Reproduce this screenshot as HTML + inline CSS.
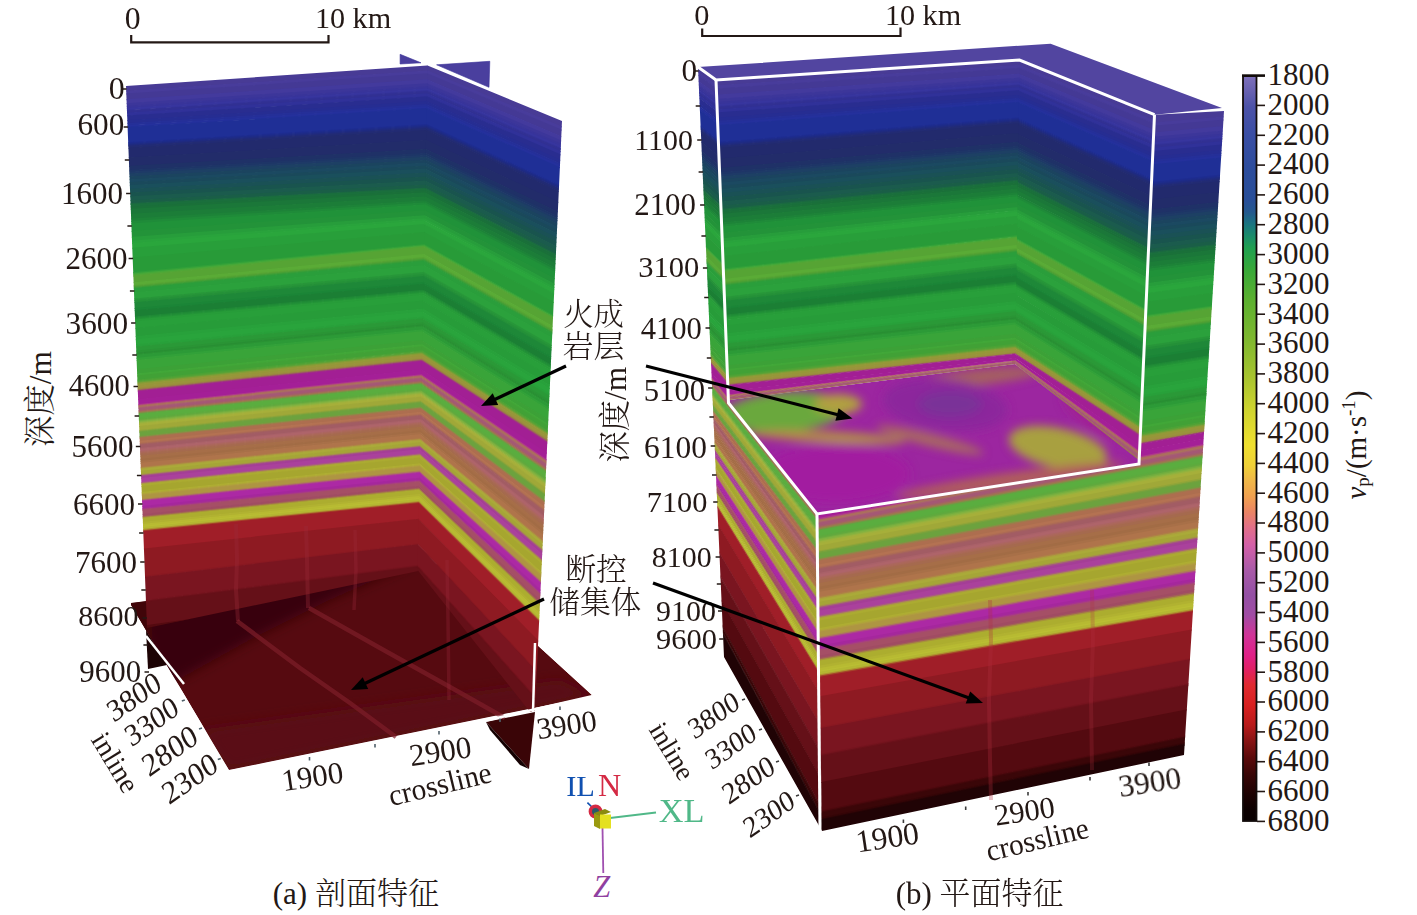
<!DOCTYPE html>
<html><head><meta charset="utf-8"><style>
html,body{margin:0;padding:0;background:#fff;}
svg{display:block;}
</style></head><body>
<svg width="1417" height="915" viewBox="0 0 1417 915">
<rect width="1417" height="915" fill="#fff"/>
<defs>
<filter id="blur6" x="-20%" y="-20%" width="140%" height="140%"><feGaussianBlur stdDeviation="6"/></filter>
<filter id="blur5" x="-20%" y="-20%" width="140%" height="140%"><feGaussianBlur stdDeviation="5"/></filter><filter id="blur3" x="-20%" y="-20%" width="140%" height="140%"><feGaussianBlur stdDeviation="3"/></filter>
<clipPath id="cfa"><polygon points="131,605 229,770 593,696 535,643 470,560 131,603"/></clipPath>
<clipPath id="cfb"><polygon points="729,400 1015,364 1139,460 1139,464 817,514 728,403"/></clipPath>
</defs>
<polygon points="400.1,54.3 400.1,64 421,62.8" fill="#4a3f9e" stroke="#3a3298" stroke-width="0.6"/>
<polygon points="436.6,64.8 489.8,61.3 489,87.3" fill="#4a3f9e" stroke="#3a3298" stroke-width="0.6"/>
<polygon points="146,630 148,669 167,665" fill="#1c0304"/>
<polygon points="486,722 529,769 535,712" fill="#3a0507"/>
<polygon points="486,722 529,769 520,765 490,730" fill="#150102"/>
<g clip-path="url(#cfa)">
<polygon points="131,605 229,770 593,696 535,643 470,560 131,603" fill="#560a10"/>
<polygon points="229,770 593,696 560,680 200,730" fill="#5a0c12" filter="url(#blur6)"/>
<polygon points="140,615 420,560 330,600 250,640 160,690" fill="#380408" filter="url(#blur6)"/>
<polygon points="126,600 152,598 152,645" fill="#400509"/>
</g>
<polyline points="237,621 300,668 350,703 396,737" fill="none" stroke="#7e1e2a" stroke-width="4.5" opacity="0.7"/>
<polyline points="309,608 380,648 450,687 505,718" fill="none" stroke="#7e1e2a" stroke-width="4.5" opacity="0.7"/>
<clipPath id="ca2"><polygon points="424.5,67.0 427.5,65.5 562.0,121.0 535.0,711.0 530.0,712.0 417.5,570.0 415.0,570.0"/></clipPath>
<g clip-path="url(#ca2)">
<polygon fill="#483b95" points="417.0,25.5 575.0,86.5 573.1,125.6 572.8,131.9 416.3,66.6 416.4,60.9"/>
<polygon fill="#483c9b" points="416.3,65.8 572.8,131.0 572.6,135.1 416.3,69.6"/>
<polygon fill="#443995" points="416.3,68.8 572.7,134.3 572.3,141.6 416.2,75.5"/>
<polygon fill="#433a9d" points="416.2,74.7 572.4,140.8 572.1,146.0 416.1,79.4"/>
<polygon fill="#3c369a" points="416.1,78.6 572.2,145.1 572.0,149.2 416.0,82.4"/>
<polygon fill="#38349a" points="416.1,81.6 572.0,148.4 571.8,151.4 416.0,84.4"/>
<polygon fill="#37359e" points="416.0,83.6 571.9,150.5 571.7,153.6 416.0,86.3"/>
<polygon fill="#333297" points="416.0,85.5 571.8,152.7 571.7,154.6 416.0,87.3"/>
<polygon fill="#313093" points="416.0,86.5 571.7,153.8 571.6,156.8 415.9,89.3"/>
<polygon fill="#303199" points="415.9,88.5 571.6,155.9 571.4,160.1 415.9,92.2"/>
<polygon fill="#292d90" points="415.9,91.4 571.5,159.2 571.2,165.5 415.8,97.2"/>
<polygon fill="#262d92" points="415.8,96.4 571.2,164.6 571.0,168.7 415.7,100.1"/>
<polygon fill="#252f98" points="415.8,99.3 571.1,167.9 570.9,170.9 415.7,102.1"/>
<polygon fill="#24309c" points="415.7,101.3 570.9,170.0 570.8,173.1 415.7,104.1"/>
<polygon fill="#1f2f96" points="415.7,103.3 570.8,172.2 570.0,190.4 415.4,119.8"/>
<polygon fill="#1e2c90" points="415.4,119.0 570.0,189.6 569.9,191.5 415.4,120.8"/>
<polygon fill="#1e2c8a" points="415.4,120.0 570.0,190.7 569.9,192.6 415.4,121.8"/>
<polygon fill="#1f2b83" points="415.4,121.0 569.9,191.7 569.8,193.7 415.4,122.8"/>
<polygon fill="#212b7c" points="415.4,122.0 569.8,192.8 569.8,194.8 415.3,123.7"/>
<polygon fill="#222b73" points="415.4,123.0 569.8,193.9 569.7,196.9 415.3,125.7"/>
<polygon fill="#222a6d" points="415.3,124.9 569.7,196.1 569.1,207.8 415.1,135.6"/>
<polygon fill="#222c6a" points="415.2,134.8 569.2,206.9 568.7,217.5 415.0,144.4"/>
<polygon fill="#1f3167" points="415.0,143.6 568.7,216.7 568.4,221.9 414.9,148.4"/>
<polygon fill="#1e3567" points="414.9,147.6 568.5,221.0 568.3,224.1 414.9,150.3"/>
<polygon fill="#1e3a67" points="414.9,149.5 568.4,223.2 568.2,226.2 414.9,152.3"/>
<polygon fill="#1d4064" points="414.9,151.5 568.3,225.4 568.1,229.5 414.8,155.3"/>
<polygon fill="#1b445f" points="414.8,154.5 568.1,228.6 567.9,232.7 414.8,158.2"/>
<polygon fill="#1b4961" points="414.8,157.4 568.0,231.9 567.8,236.0 414.7,161.2"/>
<polygon fill="#1a495b" points="414.7,160.4 567.8,235.1 567.6,239.2 414.7,164.1"/>
<polygon fill="#1a4f5c" points="414.7,163.3 567.6,238.4 567.4,243.6 414.6,168.1"/>
<polygon fill="#1a5155" points="414.6,167.3 567.4,242.7 567.2,247.9 414.5,172.0"/>
<polygon fill="#19544e" points="414.6,171.2 567.2,247.0 567.0,252.2 414.5,175.9"/>
<polygon fill="#1b5b4d" points="414.5,175.2 567.0,251.4 566.8,256.6 414.4,179.9"/>
<polygon fill="#1a5e47" points="414.4,179.1 566.8,255.7 566.6,259.8 414.4,182.8"/>
<polygon fill="#1b6842" points="414.4,182.1 566.6,259.0 566.6,260.9 414.3,183.8"/>
<polygon fill="#1a6f3c" points="414.4,183.0 566.6,260.1 566.4,263.1 414.3,185.8"/>
<polygon fill="#1a7039" points="414.3,185.0 566.5,262.2 566.3,265.3 414.3,187.8"/>
<polygon fill="#1b7739" points="414.3,187.0 566.4,264.4 566.1,269.6 414.2,191.7"/>
<polygon fill="#1c7d38" points="414.2,190.9 566.2,268.7 565.9,273.9 414.1,195.6"/>
<polygon fill="#1d8338" points="414.2,194.9 566.0,273.1 565.8,276.1 414.1,197.6"/>
<polygon fill="#1f8b39" points="414.1,196.8 565.9,275.2 565.7,278.3 414.1,199.6"/>
<polygon fill="#209239" points="414.1,198.8 565.7,277.4 565.4,284.8 414.0,205.5"/>
<polygon fill="#239339" points="414.0,204.7 565.4,283.9 565.1,290.2 413.9,210.4"/>
<polygon fill="#279d3b" points="413.9,209.6 565.2,289.3 565.0,293.4 413.9,213.4"/>
<polygon fill="#29a33c" points="413.9,212.6 565.0,292.6 564.9,295.6 413.8,215.3"/>
<polygon fill="#2aa63c" points="413.8,214.6 564.9,294.7 564.7,300.0 413.8,219.3"/>
<polygon fill="#289f3a" points="413.8,218.5 564.7,299.1 564.2,308.6 413.6,227.2"/>
<polygon fill="#289b38" points="413.6,226.4 564.3,307.8 563.6,321.6 413.4,239.0"/>
<polygon fill="#32a139" points="413.4,238.2 563.6,320.8 563.5,322.7 413.4,240.0"/>
<polygon fill="#43a839" points="413.4,239.2 563.6,321.9 563.5,323.8 413.4,241.0"/>
<polygon fill="#50a736" points="413.4,240.2 563.5,322.9 563.4,324.9 413.4,241.9"/>
<polygon fill="#56a434" points="413.4,241.2 563.5,324.0 563.1,332.5 413.3,248.8"/>
<polygon fill="#5aab36" points="413.3,248.1 563.1,331.6 562.9,335.7 413.2,251.8"/>
<polygon fill="#56a434" points="413.2,251.0 563.0,334.9 562.9,336.8 413.2,252.8"/>
<polygon fill="#4ea034" points="413.2,252.0 562.9,335.9 562.8,337.9 413.2,253.8"/>
<polygon fill="#409f36" points="413.2,253.0 562.8,337.0 562.8,339.0 413.2,254.7"/>
<polygon fill="#319d39" points="413.2,254.0 562.8,338.1 562.7,340.1 413.2,255.7"/>
<polygon fill="#2a9e3b" points="413.2,254.9 562.7,339.2 562.5,344.4 413.1,259.7"/>
<polygon fill="#2ba13c" points="413.1,258.9 562.5,343.5 562.1,352.0 413.0,266.6"/>
<polygon fill="#279639" points="413.0,265.8 562.2,351.1 562.0,354.2 413.0,268.5"/>
<polygon fill="#249038" points="413.0,267.8 562.1,353.3 561.9,356.3 412.9,270.5"/>
<polygon fill="#1e8838" points="412.9,269.7 561.9,355.5 561.6,362.8 412.8,276.4"/>
<polygon fill="#1b8537" points="412.8,275.6 561.6,362.0 561.5,365.0 412.8,278.4"/>
<polygon fill="#1b7f34" points="412.8,277.6 561.5,364.1 561.2,371.5 412.7,284.3"/>
<polygon fill="#1f8936" points="412.7,283.5 561.2,370.6 561.1,372.6 412.7,285.3"/>
<polygon fill="#218e37" points="412.7,284.5 561.2,371.7 561.1,373.7 412.7,286.3"/>
<polygon fill="#239437" points="412.7,285.5 561.1,372.8 561.0,374.8 412.6,287.3"/>
<polygon fill="#279c39" points="412.7,286.5 561.0,373.9 560.9,376.9 412.6,289.2"/>
<polygon fill="#289f3a" points="412.6,288.4 560.9,376.1 560.6,383.4 412.5,295.1"/>
<polygon fill="#279c39" points="412.5,294.4 560.6,382.6 560.2,392.1 412.4,303.0"/>
<polygon fill="#28a13b" points="412.4,302.2 560.2,391.2 560.0,395.3 412.3,306.0"/>
<polygon fill="#29a43c" points="412.4,305.2 560.0,394.5 559.7,400.8 412.3,310.9"/>
<polygon fill="#28a03a" points="412.3,310.1 559.8,399.9 559.6,402.9 412.2,312.9"/>
<polygon fill="#2a9937" points="412.2,312.1 559.7,402.1 559.4,407.3 412.2,316.8"/>
<polygon fill="#2a9435" points="412.2,316.0 559.5,406.4 559.3,409.4 412.1,318.8"/>
<polygon fill="#288e33" points="412.1,318.0 559.3,408.6 559.3,410.5 412.1,319.8"/>
<polygon fill="#2a9334" points="412.1,319.0 559.3,409.7 559.2,411.6 412.1,320.8"/>
<polygon fill="#2c9a37" points="412.1,320.0 559.2,410.7 559.0,414.9 412.1,323.7"/>
<polygon fill="#32a139" points="412.1,322.9 559.1,414.0 558.9,417.0 412.0,325.7"/>
<polygon fill="#39a439" points="412.0,324.9 559.0,416.2 558.5,426.8 411.9,334.6"/>
<polygon fill="#3ca137" points="411.9,333.8 558.5,425.9 558.2,431.1 411.8,338.5"/>
<polygon fill="#41a738" points="411.8,337.7 558.3,430.2 558.1,433.3 411.8,340.5"/>
<polygon fill="#41a136" points="411.8,339.7 558.2,432.4 557.9,437.6 411.7,344.4"/>
<polygon fill="#4ba236" points="411.7,343.6 558.0,436.7 557.9,438.7 411.7,345.4"/>
<polygon fill="#52a336" points="411.7,344.6 557.9,437.8 557.8,439.8 411.7,346.4"/>
<polygon fill="#65a136" points="411.7,345.6 557.9,438.9 557.8,440.9 411.7,347.4"/>
<polygon fill="#849d36" points="411.7,346.6 557.8,440.0 557.7,441.9 411.7,348.4"/>
<polygon fill="#959838" points="411.7,347.6 557.8,441.1 557.6,444.1 411.6,350.3"/>
<polygon fill="#9a933c" points="411.6,349.5 557.6,443.2 557.5,446.3 411.6,352.3"/>
<polygon fill="#9a8d3d" points="411.6,351.5 557.5,445.4 557.5,446.5 557.4,447.5 411.6,353.3 411.6,352.5"/>
<polygon fill="#9b6f53" points="411.6,352.5 557.5,446.5 557.4,448.8 411.6,354.3"/>
<polygon fill="#9e397d" points="411.6,353.5 557.4,447.8 557.3,450.1 411.6,355.3"/>
<polygon fill="#a21f94" points="411.6,354.5 557.4,449.1 556.7,460.5 411.5,363.3"/>
<polygon fill="#a41f97" points="411.5,362.5 556.8,459.4 556.4,467.0 411.4,368.3"/>
<polygon fill="#ae388d" points="411.5,367.5 556.5,465.9 556.3,468.2 411.4,369.3"/>
<polygon fill="#ad6565" points="411.4,368.5 556.4,467.2 556.3,469.5 411.4,370.3"/>
<polygon fill="#ab725b" points="411.4,369.5 556.3,468.5 556.2,470.8 411.4,371.3"/>
<polygon fill="#a8626e" points="411.4,370.5 556.2,469.8 556.1,472.1 411.4,372.3"/>
<polygon fill="#a45875" points="411.4,371.5 556.2,471.1 556.0,474.7 411.4,374.3"/>
<polygon fill="#a35e6b" points="411.4,373.5 556.0,473.7 555.9,476.0 411.4,375.3"/>
<polygon fill="#a36d58" points="411.4,374.5 556.0,475.0 555.8,477.3 411.4,376.3"/>
<polygon fill="#91834a" points="411.4,375.5 555.9,476.3 555.8,478.6 411.4,377.3"/>
<polygon fill="#6a9f43" points="411.4,376.5 555.8,477.6 555.7,479.9 411.4,378.3"/>
<polygon fill="#5aad3f" points="411.4,377.5 555.8,478.9 555.4,485.1 411.3,382.3"/>
<polygon fill="#5dab3e" points="411.3,381.5 555.5,484.0 555.4,486.4 411.3,383.3"/>
<polygon fill="#62a93e" points="411.3,382.5 555.4,485.3 555.3,487.7 411.3,384.3"/>
<polygon fill="#71ae3f" points="411.3,383.5 555.3,486.6 555.2,489.0 411.3,385.3"/>
<polygon fill="#81b240" points="411.3,384.5 555.3,487.9 555.1,490.2 411.3,386.3"/>
<polygon fill="#91b23e" points="411.3,385.5 555.2,489.2 555.1,491.5 411.3,387.3"/>
<polygon fill="#a0b13c" points="411.3,386.5 555.1,490.5 555.0,492.8 411.3,388.3"/>
<polygon fill="#a6af3a" points="411.3,387.5 555.1,491.8 554.9,495.4 411.2,390.3"/>
<polygon fill="#a0a838" points="411.2,389.5 554.9,494.4 554.6,500.6 411.2,394.2"/>
<polygon fill="#91a539" points="411.2,393.4 554.7,499.6 554.5,501.9 411.2,395.2"/>
<polygon fill="#78a23c" points="411.2,394.4 554.6,500.9 554.5,503.2 411.2,396.2"/>
<polygon fill="#6ca23e" points="411.2,395.4 554.5,502.1 554.2,508.4 411.1,400.2"/>
<polygon fill="#7d9743" points="411.2,399.4 554.2,507.3 554.1,509.6 411.1,401.2"/>
<polygon fill="#9d7c4b" points="411.1,400.4 554.2,508.6 554.0,510.9 411.1,402.2"/>
<polygon fill="#ad6e4f" points="411.1,401.4 554.1,509.9 553.8,514.8 411.1,405.2"/>
<polygon fill="#b47252" points="411.1,404.4 553.9,513.8 553.7,517.4 411.1,407.2"/>
<polygon fill="#ad6b55" points="411.1,406.4 553.7,516.4 553.6,518.7 411.1,408.2"/>
<polygon fill="#a4615f" points="411.1,407.4 553.7,517.7 553.6,520.0 411.1,409.2"/>
<polygon fill="#a25c64" points="411.1,408.4 553.6,519.0 553.3,523.9 411.0,412.2"/>
<polygon fill="#a96169" points="411.0,411.4 553.4,522.8 553.3,525.2 411.0,413.2"/>
<polygon fill="#ae646a" points="411.0,412.4 553.3,524.1 553.1,527.7 411.0,415.2"/>
<polygon fill="#ac6661" points="411.0,414.4 553.2,526.7 553.1,529.0 411.0,416.3"/>
<polygon fill="#ab685a" points="411.0,415.4 553.1,528.0 553.0,530.3 411.0,417.3"/>
<polygon fill="#a86954" points="411.0,416.5 553.1,529.3 552.9,531.6 411.0,418.3"/>
<polygon fill="#a56a4e" points="411.0,417.5 553.0,530.6 552.8,534.2 411.0,420.3"/>
<polygon fill="#a66e48" points="411.0,419.5 552.8,533.2 552.6,538.1 410.9,423.3"/>
<polygon fill="#a26c45" points="410.9,422.5 552.6,537.0 552.4,540.7 410.9,425.3"/>
<polygon fill="#a87048" points="410.9,424.5 552.5,539.6 552.3,543.2 410.9,427.3"/>
<polygon fill="#af744b" points="410.9,426.5 552.4,542.2 552.0,548.4 410.9,431.3"/>
<polygon fill="#ae8246" points="410.9,430.5 552.1,547.4 552.0,549.7 410.9,432.3"/>
<polygon fill="#ac9e3e" points="410.9,431.5 552.0,548.7 551.9,551.0 410.8,433.3"/>
<polygon fill="#aaaa39" points="410.9,432.5 551.9,550.0 551.7,553.6 410.8,435.3"/>
<polygon fill="#a5a537" points="410.8,434.5 551.8,552.5 551.5,557.5 410.8,438.3"/>
<polygon fill="#a68c4f" points="410.8,437.5 551.6,556.4 551.5,558.7 410.8,439.3"/>
<polygon fill="#a4587f" points="410.8,438.5 551.5,557.7 551.4,560.0 410.8,440.3"/>
<polygon fill="#a43e96" points="410.8,439.5 551.5,559.0 551.3,562.6 410.8,442.3"/>
<polygon fill="#aa419c" points="410.8,441.5 551.3,561.6 551.0,567.8 410.7,446.3"/>
<polygon fill="#a95b81" points="410.7,445.5 551.0,566.8 550.9,569.1 410.7,447.3"/>
<polygon fill="#ab914c" points="410.7,446.5 551.0,568.0 550.8,570.4 410.7,448.3"/>
<polygon fill="#abab31" points="410.7,447.5 550.9,569.3 550.7,573.0 410.7,450.3"/>
<polygon fill="#a6a62f" points="410.7,449.5 550.8,571.9 550.3,580.7 410.6,456.3"/>
<polygon fill="#aeae32" points="410.6,455.5 550.3,579.7 550.2,582.0 410.6,457.3"/>
<polygon fill="#afa936" points="410.6,456.5 550.3,581.0 550.2,583.3 410.6,458.3"/>
<polygon fill="#b09d3f" points="410.6,457.5 550.2,582.2 550.1,584.6 410.6,459.3"/>
<polygon fill="#ae9542" points="410.6,458.5 550.1,583.5 549.8,589.7 410.6,463.3"/>
<polygon fill="#ad7a5b" points="410.6,462.5 549.9,588.7 549.7,591.0 410.6,464.3"/>
<polygon fill="#ad448c" points="410.6,463.5 549.8,590.0 549.7,592.3 410.6,465.3"/>
<polygon fill="#ac29a4" points="410.6,464.5 549.7,591.3 549.3,598.8 410.5,470.3"/>
<polygon fill="#a5279d" points="410.5,469.5 549.4,597.7 549.2,601.3 410.5,472.3"/>
<polygon fill="#a63291" points="410.5,471.5 549.2,600.3 549.1,602.6 410.5,473.3"/>
<polygon fill="#a84676" points="410.5,472.5 549.2,601.6 549.0,603.9 410.5,474.3"/>
<polygon fill="#a54f66" points="410.5,473.5 549.1,602.9 548.8,609.1 410.4,478.4"/>
<polygon fill="#a04c63" points="410.4,477.6 548.8,608.1 548.6,611.7 410.4,480.4"/>
<polygon fill="#a26356" points="410.4,479.6 548.7,610.6 548.6,613.0 410.4,481.4"/>
<polygon fill="#a7923b" points="410.4,480.6 548.6,611.9 548.5,614.2 410.4,482.4"/>
<polygon fill="#acad2f" points="410.4,481.6 548.5,613.2 548.2,619.4 410.4,486.4"/>
<polygon fill="#b1b231" points="410.4,485.6 548.3,618.4 548.1,622.0 410.3,488.4"/>
<polygon fill="#b7ba32" points="410.3,487.6 548.1,621.0 547.9,624.6 410.3,490.4"/>
<polygon fill="#babe34" points="410.3,489.6 548.0,623.5 547.9,625.9 410.3,491.4"/>
<polygon fill="#b4b732" points="410.3,490.6 547.9,624.8 547.8,627.4 547.7,628.4 410.3,493.4 410.3,492.6"/>
<polygon fill="#af9230" points="410.3,492.6 547.8,627.4 547.7,629.6 410.3,494.4"/>
<polygon fill="#a5442a" points="410.3,493.6 547.7,628.6 547.6,630.8 410.3,495.3"/>
<polygon fill="#a01e28" points="410.3,494.6 547.7,629.8 546.6,650.0 410.1,511.0"/>
<polygon fill="#8e1a22" points="410.1,510.2 546.6,649.0 545.0,679.9 409.8,535.4"/>
<polygon fill="#891922" points="409.8,534.6 545.1,679.0 545.0,681.1 409.8,536.4"/>
<polygon fill="#7a1520" points="409.8,535.6 545.0,680.2 543.6,706.3 409.6,556.9"/>
<polygon fill="#75141e" points="409.6,556.1 543.7,705.4 543.6,707.5 409.6,557.9"/>
<polygon fill="#6a111a" points="409.6,557.1 543.6,706.6 543.5,708.7 409.5,558.9"/>
<polygon fill="#651018" points="409.6,558.1 543.6,707.7 543.5,708.9 542.3,732.9 409.3,578.8 409.5,559.1"/>
<polygon fill="#540a10" points="409.3,578.1 542.3,731.9 540.9,759.3 409.0,600.7"/>
<polygon fill="#4e090e" points="409.0,599.9 540.9,758.4 540.8,760.4 409.0,601.6"/>
<polygon fill="#40070a" points="409.0,600.9 540.9,759.5 540.8,761.6 409.0,602.6"/>
<polygon fill="#3a0608" points="409.0,601.8 540.8,760.7 540.5,766.2 409.0,606.4"/>
<polygon fill="#340507" points="409.0,605.6 540.6,765.3 540.5,767.3 409.0,607.4"/>
<polygon fill="#260406" points="409.0,606.6 540.5,766.4 540.4,768.5 408.9,608.3"/>
<polygon fill="#200305" points="409.0,607.5 540.5,767.6 539.3,789.4 536.9,835.3 408.3,663.7 408.7,625.6"/>
</g>
<clipPath id="ca1"><polygon points="126.0,86.0 427.5,65.5 417.5,570.0 418.5,571.0 147.0,628.0"/></clipPath>
<g clip-path="url(#ca1)">
<polygon fill="#483b95" points="112.7,52.6 440.2,28.9 439.5,64.7 439.4,70.4 114.2,92.3 114.0,86.8"/>
<polygon fill="#483c9b" points="114.2,91.6 439.4,69.7 439.3,73.4 114.3,95.2"/>
<polygon fill="#443995" points="114.3,94.4 439.3,72.6 439.2,79.4 114.6,100.9"/>
<polygon fill="#433a9d" points="114.5,100.1 439.2,78.6 439.1,83.4 114.7,104.7"/>
<polygon fill="#3c369a" points="114.7,103.9 439.1,82.6 439.0,86.3 114.8,107.5"/>
<polygon fill="#38349a" points="114.8,106.8 439.1,85.5 439.0,88.3 114.9,109.4"/>
<polygon fill="#37359e" points="114.9,108.7 439.0,87.5 439.0,90.3 115.0,111.3"/>
<polygon fill="#333297" points="114.9,110.6 439.0,89.5 438.9,91.3 115.0,112.3"/>
<polygon fill="#313093" points="115.0,111.5 439.0,90.5 438.9,93.3 115.1,114.2"/>
<polygon fill="#303199" points="115.0,113.4 438.9,92.5 438.9,96.3 115.2,117.0"/>
<polygon fill="#292d90" points="115.2,116.3 438.9,95.5 438.8,101.2 115.4,121.8"/>
<polygon fill="#262d92" points="115.3,121.0 438.8,100.4 438.7,104.2 115.5,124.6"/>
<polygon fill="#252f98" points="115.4,123.9 438.7,103.4 438.7,106.2 115.5,126.5"/>
<polygon fill="#24309c" points="115.5,125.8 438.7,105.4 438.6,108.2 115.6,128.4"/>
<polygon fill="#1f2f96" points="115.6,127.7 438.6,107.4 438.3,124.1 116.2,143.6"/>
<polygon fill="#1e2c90" points="116.2,142.9 438.3,123.3 438.3,125.1 116.2,144.6"/>
<polygon fill="#1e2c8a" points="116.2,143.8 438.3,124.3 438.3,126.1 116.3,145.5"/>
<polygon fill="#1f2b83" points="116.2,144.8 438.3,125.3 438.2,127.1 116.3,146.5"/>
<polygon fill="#212b7c" points="116.3,145.7 438.3,126.3 438.2,128.1 116.3,147.4"/>
<polygon fill="#222b73" points="116.3,146.7 438.2,127.3 438.2,130.1 116.4,149.3"/>
<polygon fill="#222a6d" points="116.4,148.6 438.2,129.3 438.0,140.0 116.8,158.8"/>
<polygon fill="#222c6a" points="116.8,158.1 438.0,139.2 437.8,148.9 117.1,167.4"/>
<polygon fill="#1f3167" points="117.1,166.6 437.8,148.1 437.7,152.9 117.3,171.2"/>
<polygon fill="#1e3567" points="117.2,170.4 437.8,152.1 437.7,154.9 117.3,173.1"/>
<polygon fill="#1e3a67" points="117.3,172.3 437.7,154.1 437.7,156.9 117.4,175.0"/>
<polygon fill="#1d4064" points="117.4,174.2 437.7,156.1 437.6,159.9 117.5,177.8"/>
<polygon fill="#1b445f" points="117.5,177.1 437.6,159.1 437.5,162.8 117.6,180.7"/>
<polygon fill="#1b4961" points="117.6,179.9 437.6,162.0 437.5,165.8 117.7,183.5"/>
<polygon fill="#1a495b" points="117.7,182.8 437.5,165.0 437.4,168.8 117.8,186.4"/>
<polygon fill="#1a4f5c" points="117.8,185.6 437.4,168.0 437.3,172.8 118.0,190.2"/>
<polygon fill="#1a5155" points="118.0,189.4 437.4,172.0 437.3,176.7 118.1,194.0"/>
<polygon fill="#19544e" points="118.1,193.2 437.3,175.9 437.2,180.7 118.3,197.8"/>
<polygon fill="#1b5b4d" points="118.2,197.0 437.2,179.9 437.1,184.7 118.4,201.6"/>
<polygon fill="#1a5e47" points="118.4,200.8 437.1,183.9 437.0,187.7 118.5,204.4"/>
<polygon fill="#1b6842" points="118.5,203.7 437.1,186.9 437.0,187.9 437.0,188.7 118.6,205.6 118.5,204.6"/>
<polygon fill="#1a6f3c" points="118.5,204.6 437.0,187.9 437.0,190.6 118.7,208.1"/>
<polygon fill="#1a7039" points="118.6,207.1 437.0,189.8 436.9,192.6 118.8,210.5"/>
<polygon fill="#1b7739" points="118.7,209.5 437.0,191.8 436.9,196.5 119.0,215.4"/>
<polygon fill="#1c7d38" points="118.9,214.4 436.9,195.7 436.8,200.4 119.1,220.3"/>
<polygon fill="#1d8338" points="119.1,219.3 436.8,199.7 436.7,202.4 119.2,222.8"/>
<polygon fill="#1f8b39" points="119.2,221.8 436.8,201.6 436.7,204.4 119.3,225.2"/>
<polygon fill="#209239" points="119.3,224.2 436.7,203.6 436.6,210.3 119.6,232.6"/>
<polygon fill="#239339" points="119.6,231.6 436.6,209.5 436.5,215.2 119.9,238.7"/>
<polygon fill="#279d3b" points="119.8,237.7 436.5,214.4 436.4,218.1 120.0,242.4"/>
<polygon fill="#29a33c" points="120.0,241.4 436.4,217.3 436.4,220.1 120.1,244.8"/>
<polygon fill="#2aa63c" points="120.1,243.9 436.4,219.3 436.3,224.0 120.3,249.7"/>
<polygon fill="#289f3a" points="120.2,248.8 436.3,223.2 436.1,231.9 120.7,259.6"/>
<polygon fill="#289b38" points="120.6,258.6 436.2,231.1 435.9,243.7 121.2,274.3"/>
<polygon fill="#32a139" points="121.2,273.3 435.9,242.9 435.9,244.6 121.3,275.5"/>
<polygon fill="#43a839" points="121.2,274.5 435.9,243.9 435.8,245.6 121.3,276.7"/>
<polygon fill="#50a736" points="121.3,275.7 435.9,244.8 435.8,246.6 121.4,277.9"/>
<polygon fill="#56a434" points="121.3,277.0 435.8,245.8 435.8,246.8 435.7,253.6 121.6,284.3 121.4,278.2"/>
<polygon fill="#5aab36" points="121.6,283.6 435.7,252.8 435.6,256.6 121.7,287.0"/>
<polygon fill="#56a434" points="121.7,286.3 435.6,255.8 435.6,257.6 121.7,287.9"/>
<polygon fill="#4ea034" points="121.7,287.2 435.6,256.8 435.6,258.7 121.8,288.8"/>
<polygon fill="#409f36" points="121.8,288.0 435.6,257.9 435.6,259.7 121.8,289.7"/>
<polygon fill="#319d39" points="121.8,288.9 435.6,258.9 435.6,260.7 121.9,290.6"/>
<polygon fill="#2a9e3b" points="121.8,289.8 435.6,259.9 435.5,264.7 122.0,294.1"/>
<polygon fill="#2ba13c" points="122.0,293.4 435.5,263.9 435.3,271.7 122.2,300.4"/>
<polygon fill="#279639" points="122.2,299.7 435.4,270.9 435.3,273.7 122.3,302.2"/>
<polygon fill="#249038" points="122.3,301.5 435.3,272.9 435.3,275.7 122.4,304.0"/>
<polygon fill="#1e8838" points="122.3,303.3 435.3,274.9 435.2,276.9 435.1,281.7 122.6,310.1 122.4,305.1"/>
<polygon fill="#1b8537" points="122.6,309.2 435.2,280.9 435.1,283.6 122.7,312.1"/>
<polygon fill="#1b7f34" points="122.6,311.3 435.1,282.8 435.0,289.5 122.9,318.4"/>
<polygon fill="#1f8936" points="122.9,317.5 435.0,288.8 435.0,290.5 123.0,319.4"/>
<polygon fill="#218e37" points="122.9,318.6 435.0,289.7 434.9,291.5 123.0,320.4"/>
<polygon fill="#239437" points="123.0,319.6 435.0,290.7 434.9,292.5 123.0,321.5"/>
<polygon fill="#279c39" points="123.0,320.7 434.9,291.7 434.9,294.5 123.1,323.6"/>
<polygon fill="#289f3a" points="123.1,322.7 434.9,293.7 434.8,300.4 123.4,329.8"/>
<polygon fill="#279c39" points="123.3,329.0 434.8,299.6 434.6,308.3 123.7,338.1"/>
<polygon fill="#28a13b" points="123.6,337.3 434.6,307.5 434.6,311.2 123.8,341.2"/>
<polygon fill="#29a43c" points="123.8,340.4 434.6,310.4 434.5,316.2 124.0,346.4"/>
<polygon fill="#28a03a" points="124.0,345.6 434.5,315.4 434.4,318.1 124.1,348.5"/>
<polygon fill="#2a9937" points="124.0,347.7 434.4,317.3 434.3,322.1 124.2,352.7"/>
<polygon fill="#2a9435" points="124.2,351.8 434.3,321.3 434.3,324.0 124.3,354.7"/>
<polygon fill="#288e33" points="124.3,353.9 434.3,323.2 434.3,325.0 124.4,355.8"/>
<polygon fill="#2a9334" points="124.3,354.9 434.3,324.2 434.3,326.0 124.4,356.8"/>
<polygon fill="#2c9a37" points="124.4,356.0 434.3,325.2 434.2,329.0 124.5,359.9"/>
<polygon fill="#32a139" points="124.5,359.1 434.2,328.2 434.2,330.9 124.6,362.0"/>
<polygon fill="#39a439" points="124.6,361.2 434.2,330.1 434.0,339.8 125.0,371.4"/>
<polygon fill="#3ca137" points="124.9,370.5 434.0,339.0 433.9,343.7 125.1,375.5"/>
<polygon fill="#41a738" points="125.1,374.7 433.9,343.0 433.9,345.7 125.2,377.6"/>
<polygon fill="#41a136" points="125.2,376.8 433.9,344.9 433.8,349.7 125.4,381.7"/>
<polygon fill="#4ba236" points="125.3,380.9 433.8,348.9 433.8,350.6 125.4,382.8"/>
<polygon fill="#52a336" points="125.4,381.9 433.8,349.9 433.7,351.6 125.4,383.8"/>
<polygon fill="#65a136" points="125.4,383.0 433.8,350.8 433.7,352.6 125.5,384.9"/>
<polygon fill="#849d36" points="125.4,384.0 433.7,351.8 433.7,353.6 125.5,385.9"/>
<polygon fill="#959838" points="125.5,385.1 433.7,352.8 433.7,355.6 125.6,388.0"/>
<polygon fill="#9a933c" points="125.6,387.1 433.7,354.8 433.6,357.5 125.7,390.1"/>
<polygon fill="#9a8d3d" points="125.6,389.2 433.6,356.8 433.6,357.7 433.6,358.6 125.7,391.1 125.7,390.3"/>
<polygon fill="#9b6f53" points="125.7,390.3 433.6,357.7 433.6,359.6 125.7,392.1"/>
<polygon fill="#9e397d" points="125.7,391.3 433.6,358.8 433.6,360.6 125.8,393.1"/>
<polygon fill="#a21f94" points="125.8,392.3 433.6,359.8 433.4,368.7 126.1,401.1"/>
<polygon fill="#a41f97" points="126.1,400.3 433.4,367.9 433.3,373.8 126.3,406.1"/>
<polygon fill="#ae388d" points="126.3,405.3 433.3,373.0 433.3,374.8 126.3,407.1"/>
<polygon fill="#ad6565" points="126.3,406.3 433.3,374.0 433.3,375.8 126.4,408.1"/>
<polygon fill="#ab725b" points="126.3,407.3 433.3,375.0 433.2,376.8 126.4,409.1"/>
<polygon fill="#a8626e" points="126.4,408.3 433.3,376.0 433.2,377.8 126.4,410.1"/>
<polygon fill="#a45875" points="126.4,409.3 433.2,377.0 433.2,379.9 126.5,412.1"/>
<polygon fill="#a35e6b" points="126.5,411.3 433.2,379.0 433.2,380.9 126.6,413.1"/>
<polygon fill="#a36d58" points="126.5,412.3 433.2,380.1 433.1,381.9 126.6,414.1"/>
<polygon fill="#91834a" points="126.6,413.3 433.2,381.1 433.1,382.9 126.6,415.1"/>
<polygon fill="#6a9f43" points="126.6,414.3 433.1,382.1 433.1,383.9 126.7,416.1"/>
<polygon fill="#5aad3f" points="126.6,415.3 433.1,383.1 433.0,388.0 126.8,420.1"/>
<polygon fill="#5dab3e" points="126.8,419.3 433.0,387.2 433.0,389.0 126.9,421.0"/>
<polygon fill="#62a93e" points="126.8,420.3 433.0,388.2 433.0,390.0 126.9,422.0"/>
<polygon fill="#71ae3f" points="126.9,421.2 433.0,389.2 433.0,391.0 126.9,423.0"/>
<polygon fill="#81b240" points="126.9,422.2 433.0,390.2 432.9,392.0 127.0,424.0"/>
<polygon fill="#91b23e" points="126.9,423.2 433.0,391.2 432.9,393.0 127.0,425.0"/>
<polygon fill="#a0b13c" points="127.0,424.2 432.9,392.2 432.9,394.1 127.1,426.0"/>
<polygon fill="#a6af3a" points="127.0,425.2 432.9,393.3 432.9,396.1 127.1,428.0"/>
<polygon fill="#a0a838" points="127.1,427.2 432.9,395.3 432.8,400.2 127.3,432.0"/>
<polygon fill="#91a539" points="127.2,431.2 432.8,399.3 432.8,401.2 127.3,433.0"/>
<polygon fill="#78a23c" points="127.3,432.2 432.8,400.4 432.7,402.2 127.4,434.0"/>
<polygon fill="#6ca23e" points="127.3,433.2 432.8,401.4 432.7,406.2 127.5,438.0"/>
<polygon fill="#7d9743" points="127.5,437.2 432.7,405.4 432.6,407.3 127.5,439.0"/>
<polygon fill="#9d7c4b" points="127.5,438.2 432.7,406.4 432.6,408.3 127.6,440.0"/>
<polygon fill="#ad6e4f" points="127.6,439.2 432.6,407.5 432.6,411.3 127.7,443.0"/>
<polygon fill="#b47252" points="127.7,442.2 432.6,410.5 432.5,413.3 127.8,445.0"/>
<polygon fill="#ad6b55" points="127.7,444.2 432.5,412.5 432.5,414.4 127.8,446.0"/>
<polygon fill="#a4615f" points="127.8,445.2 432.5,413.5 432.5,415.4 127.9,447.0"/>
<polygon fill="#a25c64" points="127.8,446.2 432.5,414.6 432.4,418.4 128.0,450.0"/>
<polygon fill="#a96169" points="127.9,449.2 432.4,417.6 432.4,419.4 128.0,451.0"/>
<polygon fill="#ae646a" points="128.0,450.2 432.4,418.6 432.4,421.5 128.1,453.0"/>
<polygon fill="#ac6661" points="128.1,452.2 432.4,420.6 432.3,422.5 128.1,454.0"/>
<polygon fill="#ab685a" points="128.1,453.2 432.4,421.7 432.3,423.5 128.2,455.0"/>
<polygon fill="#a86954" points="128.1,454.2 432.3,422.7 432.3,424.5 128.2,456.0"/>
<polygon fill="#a56a4e" points="128.2,455.2 432.3,423.7 432.3,426.5 128.3,458.0"/>
<polygon fill="#a66e48" points="128.2,457.2 432.3,425.7 432.2,429.6 128.4,461.0"/>
<polygon fill="#a26c45" points="128.4,460.2 432.2,428.8 432.2,431.6 128.5,463.0"/>
<polygon fill="#a87048" points="128.4,462.2 432.2,430.8 432.1,433.6 128.5,465.0"/>
<polygon fill="#af744b" points="128.5,464.2 432.1,432.8 432.0,437.7 128.7,469.0"/>
<polygon fill="#ae8246" points="128.7,468.2 432.1,436.9 432.0,438.7 128.7,470.0"/>
<polygon fill="#ac9e3e" points="128.7,469.2 432.0,437.9 432.0,439.7 128.8,471.0"/>
<polygon fill="#aaaa39" points="128.7,470.2 432.0,438.9 432.0,441.8 128.9,473.0"/>
<polygon fill="#a5a537" points="128.8,472.2 432.0,440.9 431.9,444.8 129.0,476.0"/>
<polygon fill="#a68c4f" points="128.9,475.2 431.9,444.0 431.9,445.8 129.0,477.0"/>
<polygon fill="#a4587f" points="129.0,476.2 431.9,445.0 431.9,446.8 129.0,478.0"/>
<polygon fill="#a43e96" points="129.0,477.2 431.9,446.0 431.8,448.9 129.1,480.0"/>
<polygon fill="#aa419c" points="129.1,479.2 431.8,448.0 431.7,452.9 129.3,484.0"/>
<polygon fill="#a95b81" points="129.2,483.2 431.7,452.1 431.7,453.9 129.3,485.0"/>
<polygon fill="#ab914c" points="129.3,484.2 431.7,453.1 431.7,454.9 129.3,486.0"/>
<polygon fill="#abab31" points="129.3,485.2 431.7,454.1 431.7,457.0 129.4,488.0"/>
<polygon fill="#a6a62f" points="129.4,487.2 431.7,456.2 431.5,463.1 129.7,494.0"/>
<polygon fill="#aeae32" points="129.6,493.2 431.5,462.2 431.5,464.1 129.7,495.0"/>
<polygon fill="#afa936" points="129.7,494.2 431.5,463.3 431.5,465.1 129.7,496.0"/>
<polygon fill="#b09d3f" points="129.7,495.2 431.5,464.3 431.5,466.1 129.8,497.0"/>
<polygon fill="#ae9542" points="129.7,496.2 431.5,465.3 431.4,470.2 129.9,501.0"/>
<polygon fill="#ad7a5b" points="129.9,500.2 431.4,469.3 431.4,471.2 130.0,502.0"/>
<polygon fill="#ad448c" points="129.9,501.2 431.4,470.4 431.4,472.2 130.0,503.0"/>
<polygon fill="#ac29a4" points="130.0,502.2 431.4,471.4 431.3,477.3 130.2,508.0"/>
<polygon fill="#a5279d" points="130.2,507.2 431.3,476.5 431.2,479.3 130.3,510.0"/>
<polygon fill="#a63291" points="130.2,509.2 431.2,478.5 431.2,480.3 130.3,511.0"/>
<polygon fill="#a84676" points="130.3,510.2 431.2,479.5 431.2,481.3 130.3,512.0"/>
<polygon fill="#a54f66" points="130.3,511.2 431.2,480.5 431.1,485.4 130.5,516.0"/>
<polygon fill="#a04c63" points="130.5,515.2 431.1,484.6 431.1,487.4 130.6,518.0"/>
<polygon fill="#a26356" points="130.5,517.2 431.1,486.6 431.0,488.4 130.6,519.0"/>
<polygon fill="#a7923b" points="130.6,518.2 431.0,487.6 431.0,489.4 130.6,520.0"/>
<polygon fill="#acad2f" points="130.6,519.2 431.0,488.6 430.9,493.5 130.8,524.0"/>
<polygon fill="#b1b231" points="130.8,523.2 430.9,492.7 430.9,495.5 130.9,526.0"/>
<polygon fill="#b7ba32" points="130.8,525.2 430.9,494.7 430.9,497.6 131.0,528.0"/>
<polygon fill="#babe34" points="130.9,527.2 430.9,496.7 430.8,498.6 131.0,529.0"/>
<polygon fill="#b4b732" points="131.0,528.2 430.8,497.8 430.8,499.8 430.8,500.6 131.1,531.1 131.0,530.2"/>
<polygon fill="#af9230" points="131.0,530.2 430.8,499.8 430.8,501.6 131.1,532.2"/>
<polygon fill="#a5442a" points="131.1,531.3 430.8,500.8 430.8,502.5 131.2,533.3"/>
<polygon fill="#a01e28" points="131.1,532.4 430.8,501.7 430.4,518.2 131.8,550.8"/>
<polygon fill="#8e1a22" points="131.8,549.9 430.4,517.4 429.9,542.7 132.9,578.1"/>
<polygon fill="#891922" points="132.9,577.2 429.9,542.0 429.9,543.7 132.9,579.2"/>
<polygon fill="#7a1520" points="132.9,578.3 429.9,542.9 429.5,564.3 133.8,602.1"/>
<polygon fill="#75141e" points="133.8,601.3 429.5,563.5 429.5,565.3 133.9,603.2"/>
<polygon fill="#6a111a" points="133.8,602.3 429.5,564.5 429.4,566.3 133.9,604.3"/>
<polygon fill="#651018" points="133.9,603.4 429.5,565.5 429.4,566.5 429.0,586.2 134.8,627.5 133.9,604.5"/>
<polygon fill="#540a10" points="134.8,626.7 429.0,585.5 428.6,608.1 135.8,653.0"/>
<polygon fill="#4e090e" points="135.8,652.1 428.6,607.3 428.6,609.1 135.8,654.1"/>
<polygon fill="#40070a" points="135.8,653.2 428.6,608.3 428.5,610.0 135.9,655.2"/>
<polygon fill="#3a0608" points="135.9,654.3 428.5,609.2 428.5,613.8 136.1,659.6"/>
<polygon fill="#340507" points="136.0,658.8 428.5,613.0 428.4,614.8 136.1,660.7"/>
<polygon fill="#260406" points="136.1,659.9 428.4,614.0 428.4,615.7 136.1,661.9"/>
<polygon fill="#200305" points="136.1,661.0 428.4,614.9 428.0,633.0 427.2,671.0 138.7,726.3 136.9,682.0"/>
</g>
<polyline points="236,524 237,560 236,590 238,621" fill="none" stroke="#9a2a3a" stroke-width="4" opacity="0.35"/>
<polyline points="306,526 307,560 308,608" fill="none" stroke="#9a2a3a" stroke-width="4" opacity="0.35"/>
<polyline points="355,530 356,570 354,610" fill="none" stroke="#9a2a3a" stroke-width="3.5" opacity="0.3"/>
<polyline points="447,560 448,620 449,700" fill="none" stroke="#9a2a3a" stroke-width="3.5" opacity="0.3"/>
<polygon points="698,67 1050.6,43.7 1222,108 1154.5,114.7 1019.5,60 716,80" fill="#5245a0"/>
<clipPath id="cb2"><polygon points="698.0,67.0 716.0,80.0 728.5,403.0 817.0,514.0 822.0,831.0 724.0,657.0"/></clipPath>
<g clip-path="url(#cb2)">
<polygon fill="#483b95" points="686.3,24.7 827.9,114.9 827.9,156.8 827.9,163.6 688.4,65.9 688.1,60.2"/>
<polygon fill="#483c9b" points="688.4,65.1 827.9,162.7 827.9,167.1 688.6,68.9"/>
<polygon fill="#443995" points="688.5,68.1 827.9,166.2 827.9,174.1 688.9,74.8"/>
<polygon fill="#433a9d" points="688.8,74.0 827.9,173.1 827.9,178.7 689.1,78.7"/>
<polygon fill="#3c369a" points="689.0,77.9 827.9,177.8 827.9,182.2 689.2,81.7"/>
<polygon fill="#38349a" points="689.2,80.9 827.9,181.3 827.9,184.6 689.3,83.7"/>
<polygon fill="#37359e" points="689.3,82.9 827.9,183.6 827.9,186.9 689.4,85.6"/>
<polygon fill="#333297" points="689.4,84.8 827.9,186.0 827.9,188.1 689.5,86.6"/>
<polygon fill="#313093" points="689.5,85.8 827.9,187.1 827.9,190.4 689.6,88.6"/>
<polygon fill="#303199" points="689.6,87.8 827.9,189.5 827.9,193.9 689.8,91.5"/>
<polygon fill="#292d90" points="689.7,90.8 827.9,193.0 827.9,199.7 690.0,96.5"/>
<polygon fill="#262d92" points="690.0,95.7 827.9,198.8 827.9,203.2 690.2,99.4"/>
<polygon fill="#252f98" points="690.1,98.7 827.9,202.3 827.9,205.5 690.3,101.4"/>
<polygon fill="#24309c" points="690.2,100.6 827.9,204.6 827.9,207.9 690.4,103.4"/>
<polygon fill="#1f2f96" points="690.3,102.6 827.9,206.9 827.9,226.5 691.2,119.2"/>
<polygon fill="#1e2c90" points="691.1,118.4 827.9,225.6 827.9,227.7 691.2,120.2"/>
<polygon fill="#1e2c8a" points="691.2,119.4 827.9,226.7 827.9,228.8 691.3,121.2"/>
<polygon fill="#1f2b83" points="691.2,120.4 827.9,227.9 827.9,230.0 691.3,122.1"/>
<polygon fill="#212b7c" points="691.3,121.4 827.9,229.1 827.9,231.2 691.4,123.1"/>
<polygon fill="#222b73" points="691.4,122.3 827.9,230.2 827.9,233.5 691.5,125.1"/>
<polygon fill="#222a6d" points="691.5,124.3 827.9,232.6 827.9,245.1 692.0,135.0"/>
<polygon fill="#222c6a" points="692.0,134.2 827.9,244.2 827.9,255.6 692.5,143.9"/>
<polygon fill="#1f3167" points="692.4,143.1 827.9,254.7 827.8,260.3 692.7,147.8"/>
<polygon fill="#1e3567" points="692.6,147.0 827.8,259.3 827.8,262.6 692.8,149.8"/>
<polygon fill="#1e3a67" points="692.7,149.0 827.8,261.7 827.8,264.9 692.9,151.8"/>
<polygon fill="#1d4064" points="692.8,151.0 827.8,264.0 827.8,268.4 693.0,154.7"/>
<polygon fill="#1b445f" points="693.0,154.0 827.8,267.5 827.8,271.9 693.2,157.7"/>
<polygon fill="#1b4961" points="693.1,156.9 827.8,271.0 827.8,275.4 693.3,160.7"/>
<polygon fill="#1a495b" points="693.3,159.9 827.8,274.5 827.8,278.9 693.5,163.6"/>
<polygon fill="#1a4f5c" points="693.5,162.8 827.8,278.0 827.8,283.6 693.7,167.6"/>
<polygon fill="#1a5155" points="693.7,166.8 827.8,282.6 827.8,288.2 693.9,171.5"/>
<polygon fill="#19544e" points="693.9,170.7 827.8,287.3 827.8,292.9 694.1,175.5"/>
<polygon fill="#1b5b4d" points="694.1,174.7 827.8,291.9 827.8,297.5 694.3,179.4"/>
<polygon fill="#1a5e47" points="694.3,178.7 827.8,296.6 827.8,301.0 694.5,182.4"/>
<polygon fill="#1b6842" points="694.4,181.6 827.8,300.1 827.8,302.2 694.5,183.4"/>
<polygon fill="#1a6f3c" points="694.5,182.6 827.8,301.2 827.8,304.5 694.6,185.4"/>
<polygon fill="#1a7039" points="694.6,184.6 827.8,303.6 827.8,306.8 694.7,187.3"/>
<polygon fill="#1b7739" points="694.7,186.6 827.8,305.9 827.8,311.5 694.9,191.3"/>
<polygon fill="#1c7d38" points="694.9,190.5 827.8,310.6 827.8,316.1 695.1,195.3"/>
<polygon fill="#1d8338" points="695.1,194.5 827.8,315.2 827.8,318.5 695.2,197.2"/>
<polygon fill="#1f8b39" points="695.2,196.4 827.8,317.5 827.8,320.8 695.3,199.2"/>
<polygon fill="#209239" points="695.3,198.4 827.8,319.9 827.8,327.8 695.7,205.1"/>
<polygon fill="#239339" points="695.6,204.4 827.8,326.8 827.8,333.6 695.9,210.1"/>
<polygon fill="#279d3b" points="695.9,209.3 827.8,332.7 827.8,337.1 696.1,213.1"/>
<polygon fill="#29a33c" points="696.0,212.3 827.8,336.2 827.8,339.4 696.2,215.0"/>
<polygon fill="#2aa63c" points="696.1,214.2 827.8,338.5 827.8,344.1 696.4,219.0"/>
<polygon fill="#289f3a" points="696.3,218.2 827.8,343.1 827.8,353.4 696.8,226.9"/>
<polygon fill="#289b38" points="696.7,226.1 827.8,352.4 827.8,367.3 697.4,238.8"/>
<polygon fill="#32a139" points="697.4,238.0 827.8,366.4 827.8,368.5 697.4,239.8"/>
<polygon fill="#43a839" points="697.4,239.0 827.8,367.6 827.8,369.6 697.5,240.7"/>
<polygon fill="#50a736" points="697.5,240.0 827.8,368.7 827.8,370.8 697.5,241.7"/>
<polygon fill="#56a434" points="697.5,240.9 827.8,369.9 827.8,379.0 697.9,248.7"/>
<polygon fill="#5aab36" points="697.9,247.9 827.8,378.0 827.8,382.4 698.1,251.6"/>
<polygon fill="#56a434" points="698.0,250.8 827.8,381.5 827.8,383.6 698.1,252.6"/>
<polygon fill="#4ea034" points="698.1,251.8 827.8,382.7 827.8,384.8 698.2,253.6"/>
<polygon fill="#409f36" points="698.1,252.8 827.8,383.8 827.8,385.9 698.2,254.6"/>
<polygon fill="#319d39" points="698.2,253.8 827.8,385.0 827.8,387.1 698.3,255.6"/>
<polygon fill="#2a9e3b" points="698.2,254.8 827.8,386.2 827.8,391.7 698.5,259.5"/>
<polygon fill="#2ba13c" points="698.4,258.7 827.8,390.8 827.8,399.9 698.8,266.5"/>
<polygon fill="#279639" points="698.8,265.7 827.8,398.9 827.8,402.2 698.9,268.4"/>
<polygon fill="#249038" points="698.9,267.7 827.8,401.3 827.8,404.5 699.0,270.4"/>
<polygon fill="#1e8838" points="699.0,269.6 827.8,403.6 827.8,411.5 699.3,276.4"/>
<polygon fill="#1b8537" points="699.3,275.6 827.8,410.6 827.8,413.8 699.4,278.3"/>
<polygon fill="#1b7f34" points="699.4,277.5 827.8,412.9 827.8,420.8 699.8,284.3"/>
<polygon fill="#1f8936" points="699.7,283.5 827.8,419.9 827.8,422.0 699.8,285.3"/>
<polygon fill="#218e37" points="699.8,284.5 827.8,421.0 827.8,423.1 699.9,286.3"/>
<polygon fill="#239437" points="699.8,285.5 827.8,422.2 827.8,424.3 699.9,287.2"/>
<polygon fill="#279c39" points="699.9,286.5 827.8,423.4 827.8,426.6 700.0,289.2"/>
<polygon fill="#289f3a" points="700.0,288.4 827.8,425.7 827.8,433.6 700.3,295.2"/>
<polygon fill="#279c39" points="700.3,294.4 827.8,432.7 827.8,442.9 700.7,303.1"/>
<polygon fill="#28a13b" points="700.7,302.3 827.8,442.0 827.8,446.4 700.9,306.1"/>
<polygon fill="#29a43c" points="700.8,305.3 827.8,445.4 827.7,452.2 701.1,311.0"/>
<polygon fill="#28a03a" points="701.1,310.2 827.7,451.2 827.7,454.5 701.2,313.0"/>
<polygon fill="#2a9937" points="701.2,312.2 827.7,453.6 827.7,459.1 701.4,317.0"/>
<polygon fill="#2a9435" points="701.4,316.2 827.7,458.2 827.7,461.5 701.5,318.9"/>
<polygon fill="#288e33" points="701.5,318.1 827.7,460.5 827.7,462.6 701.6,319.9"/>
<polygon fill="#2a9334" points="701.6,319.1 827.7,461.7 827.7,463.8 701.6,320.9"/>
<polygon fill="#2c9a37" points="701.6,320.1 827.7,462.9 827.7,467.3 701.8,323.9"/>
<polygon fill="#32a139" points="701.8,323.1 827.7,466.3 827.7,469.6 701.9,325.9"/>
<polygon fill="#39a439" points="701.9,325.1 827.7,468.7 827.7,480.1 702.4,334.8"/>
<polygon fill="#3ca137" points="702.3,334.0 827.7,479.1 827.7,484.7 702.6,338.7"/>
<polygon fill="#41a738" points="702.5,337.9 827.7,483.8 827.7,487.0 702.7,340.7"/>
<polygon fill="#41a136" points="702.6,339.9 827.7,486.1 827.7,491.7 702.9,344.7"/>
<polygon fill="#4ba236" points="702.8,343.9 827.7,490.7 827.7,492.8 702.9,345.7"/>
<polygon fill="#52a336" points="702.9,344.9 827.7,491.9 827.7,494.0 703.0,346.7"/>
<polygon fill="#65a136" points="702.9,345.9 827.7,493.1 827.7,495.2 703.0,347.7"/>
<polygon fill="#849d36" points="703.0,346.9 827.7,494.2 827.7,496.3 703.1,348.6"/>
<polygon fill="#959838" points="703.0,347.9 827.7,495.4 827.7,498.6 703.2,350.6"/>
<polygon fill="#9a933c" points="703.1,349.8 827.7,497.7 827.7,501.0 703.3,352.6"/>
<polygon fill="#9a8d3d" points="703.2,351.8 827.7,500.0 827.7,501.2 827.7,502.2 703.3,353.6 703.3,352.8"/>
<polygon fill="#9b6f53" points="703.3,352.8 827.7,501.2 827.7,503.6 703.4,354.6"/>
<polygon fill="#9e397d" points="703.3,353.8 827.7,502.5 827.7,504.9 703.4,355.6"/>
<polygon fill="#a21f94" points="703.4,354.8 827.7,503.8 827.7,515.3 703.9,363.7"/>
<polygon fill="#a41f97" points="703.9,362.9 827.7,514.3 827.7,521.9 704.2,368.8"/>
<polygon fill="#ae388d" points="704.1,368.0 827.7,520.8 827.7,523.2 704.2,369.8"/>
<polygon fill="#ad6565" points="704.2,369.0 827.7,522.1 827.7,524.5 704.3,370.8"/>
<polygon fill="#ab725b" points="704.2,370.0 827.7,523.5 827.7,525.8 704.3,371.8"/>
<polygon fill="#a8626e" points="704.3,371.0 827.7,524.8 827.7,527.1 704.4,372.8"/>
<polygon fill="#a45875" points="704.4,372.0 827.7,526.1 827.7,529.7 704.5,374.9"/>
<polygon fill="#a35e6b" points="704.5,374.1 827.7,528.7 827.7,531.0 704.6,375.9"/>
<polygon fill="#a36d58" points="704.5,375.1 827.7,530.0 827.6,532.3 704.6,376.9"/>
<polygon fill="#91834a" points="704.6,376.1 827.7,531.3 827.6,533.7 704.7,377.9"/>
<polygon fill="#6a9f43" points="704.6,377.1 827.6,532.6 827.6,535.0 704.7,378.9"/>
<polygon fill="#5aad3f" points="704.7,378.1 827.6,533.9 827.6,540.2 705.0,383.0"/>
<polygon fill="#5dab3e" points="704.9,382.2 827.6,539.2 827.6,541.5 705.0,384.0"/>
<polygon fill="#62a93e" points="705.0,383.2 827.6,540.5 827.6,542.8 705.1,385.0"/>
<polygon fill="#71ae3f" points="705.0,384.2 827.6,541.8 827.6,544.1 705.1,386.0"/>
<polygon fill="#81b240" points="705.1,385.2 827.6,543.1 827.6,545.4 705.2,387.0"/>
<polygon fill="#91b23e" points="705.1,386.2 827.6,544.4 827.6,546.7 705.2,388.0"/>
<polygon fill="#a0b13c" points="705.2,387.2 827.6,545.7 827.6,548.1 705.3,389.1"/>
<polygon fill="#a6af3a" points="705.2,388.2 827.6,547.0 827.6,550.7 705.4,391.1"/>
<polygon fill="#a0a838" points="705.4,390.3 827.6,549.6 827.6,555.9 705.6,395.1"/>
<polygon fill="#91a539" points="705.6,394.3 827.6,554.9 827.6,557.2 705.7,396.1"/>
<polygon fill="#78a23c" points="705.6,395.3 827.6,556.2 827.6,558.5 705.7,397.2"/>
<polygon fill="#6ca23e" points="705.7,396.4 827.6,557.5 827.6,563.7 706.0,401.2"/>
<polygon fill="#7d9743" points="705.9,400.4 827.6,562.7 827.6,565.1 706.0,402.2"/>
<polygon fill="#9d7c4b" points="706.0,401.4 827.6,564.0 827.6,566.4 706.1,403.2"/>
<polygon fill="#ad6e4f" points="706.0,402.4 827.6,565.3 827.6,570.3 706.2,406.3"/>
<polygon fill="#b47252" points="706.2,405.5 827.6,569.2 827.6,572.9 706.4,408.3"/>
<polygon fill="#ad6b55" points="706.3,407.5 827.6,571.9 827.5,574.2 706.4,409.3"/>
<polygon fill="#a4615f" points="706.4,408.5 827.6,573.2 827.5,575.5 706.5,410.3"/>
<polygon fill="#a25c64" points="706.4,409.5 827.5,574.5 827.5,579.4 706.6,413.4"/>
<polygon fill="#a96169" points="706.6,412.6 827.5,578.4 827.5,580.7 706.7,414.4"/>
<polygon fill="#ae646a" points="706.6,413.6 827.5,579.7 827.5,583.4 706.8,416.4"/>
<polygon fill="#ac6661" points="706.8,415.6 827.5,582.3 827.5,584.7 706.8,417.4"/>
<polygon fill="#ab685a" points="706.8,416.6 827.5,583.6 827.5,586.0 706.9,418.5"/>
<polygon fill="#a86954" points="706.9,417.6 827.5,584.9 827.5,587.3 707.0,419.5"/>
<polygon fill="#a56a4e" points="706.9,418.7 827.5,586.2 827.5,589.9 707.1,421.5"/>
<polygon fill="#a66e48" points="707.0,420.7 827.5,588.9 827.5,593.8 707.2,424.5"/>
<polygon fill="#a26c45" points="707.2,423.7 827.5,592.8 827.5,596.4 707.3,426.6"/>
<polygon fill="#a87048" points="707.3,425.8 827.5,595.4 827.5,599.1 707.5,428.6"/>
<polygon fill="#af744b" points="707.4,427.8 827.5,598.0 827.5,604.3 707.7,432.6"/>
<polygon fill="#ae8246" points="707.6,431.8 827.5,603.2 827.5,605.6 707.7,433.7"/>
<polygon fill="#ac9e3e" points="707.7,432.9 827.5,604.5 827.5,606.9 707.8,434.7"/>
<polygon fill="#aaaa39" points="707.7,433.9 827.5,605.8 827.5,609.5 707.9,436.7"/>
<polygon fill="#a5a537" points="707.9,435.9 827.5,608.5 827.5,613.4 708.1,439.8"/>
<polygon fill="#a68c4f" points="708.0,438.9 827.5,612.4 827.5,614.7 708.1,440.8"/>
<polygon fill="#a4587f" points="708.1,440.0 827.5,613.7 827.5,616.0 708.2,441.8"/>
<polygon fill="#a43e96" points="708.1,441.0 827.5,615.0 827.5,618.7 708.3,443.8"/>
<polygon fill="#aa419c" points="708.2,443.0 827.5,617.6 827.5,623.9 708.5,447.9"/>
<polygon fill="#a95b81" points="708.5,447.1 827.5,622.8 827.4,625.2 708.6,448.9"/>
<polygon fill="#ab914c" points="708.5,448.1 827.5,624.1 827.4,626.5 708.6,449.9"/>
<polygon fill="#abab31" points="708.6,449.1 827.4,625.5 827.4,629.1 708.7,451.9"/>
<polygon fill="#a6a62f" points="708.7,451.1 827.4,628.1 827.4,636.9 709.1,458.0"/>
<polygon fill="#aeae32" points="709.0,457.2 827.4,635.9 827.4,638.3 709.1,459.0"/>
<polygon fill="#afa936" points="709.1,458.2 827.4,637.2 827.4,639.6 709.2,460.0"/>
<polygon fill="#b09d3f" points="709.1,459.2 827.4,638.5 827.4,640.9 709.2,461.1"/>
<polygon fill="#ae9542" points="709.2,460.2 827.4,639.8 827.4,646.1 709.4,465.1"/>
<polygon fill="#ad7a5b" points="709.4,464.3 827.4,645.0 827.4,647.4 709.5,466.1"/>
<polygon fill="#ad448c" points="709.4,465.3 827.4,646.4 827.4,648.7 709.5,467.2"/>
<polygon fill="#ac29a4" points="709.5,466.3 827.4,647.7 827.4,655.2 709.8,472.2"/>
<polygon fill="#a5279d" points="709.8,471.4 827.4,654.2 827.4,657.8 709.9,474.3"/>
<polygon fill="#a63291" points="709.9,473.4 827.4,656.8 827.4,659.2 710.0,475.3"/>
<polygon fill="#a84676" points="709.9,474.5 827.4,658.1 827.4,660.5 710.0,476.3"/>
<polygon fill="#a54f66" points="710.0,475.5 827.4,659.4 827.4,665.7 710.3,480.4"/>
<polygon fill="#a04c63" points="710.2,479.5 827.4,664.6 827.4,668.3 710.4,482.4"/>
<polygon fill="#a26356" points="710.3,481.6 827.4,667.3 827.4,669.6 710.4,483.4"/>
<polygon fill="#a7923b" points="710.4,482.6 827.4,668.6 827.4,670.9 710.5,484.4"/>
<polygon fill="#acad2f" points="710.4,483.6 827.4,669.9 827.4,676.1 710.7,488.5"/>
<polygon fill="#b1b231" points="710.6,487.7 827.4,675.1 827.4,678.7 710.8,490.5"/>
<polygon fill="#b7ba32" points="710.8,489.7 827.4,677.7 827.4,681.4 710.9,492.5"/>
<polygon fill="#babe34" points="710.9,491.7 827.4,680.3 827.4,682.7 711.0,493.6"/>
<polygon fill="#b4b732" points="710.9,492.7 827.4,681.6 827.4,684.2 827.4,685.2 711.1,495.6 711.0,494.8"/>
<polygon fill="#af9230" points="711.0,494.8 827.4,684.2 827.4,686.4 711.1,496.7"/>
<polygon fill="#a5442a" points="711.1,495.9 827.4,685.4 827.4,687.6 711.2,497.8"/>
<polygon fill="#a01e28" points="711.1,496.9 827.4,686.6 827.4,706.9 712.0,515.1"/>
<polygon fill="#8e1a22" points="712.0,514.2 827.4,705.9 827.5,737.0 713.3,542.1"/>
<polygon fill="#891922" points="713.3,541.3 827.5,736.0 827.5,738.2 713.4,543.2"/>
<polygon fill="#7a1520" points="713.3,542.3 827.5,737.2 827.5,763.5 714.5,565.9"/>
<polygon fill="#75141e" points="714.4,565.0 827.5,762.5 827.5,764.7 714.5,567.0"/>
<polygon fill="#6a111a" points="714.5,566.1 827.5,763.7 827.5,765.9 714.6,568.1"/>
<polygon fill="#651018" points="714.5,567.2 827.5,764.9 827.6,791.2 715.7,590.8"/>
<polygon fill="#540a10" points="715.7,589.9 827.6,790.2 827.6,818.9 716.9,615.7"/>
<polygon fill="#4e090e" points="716.9,614.8 827.6,817.9 827.6,820.1 717.0,616.7"/>
<polygon fill="#40070a" points="716.9,615.9 827.6,819.1 827.6,821.3 717.0,617.8"/>
<polygon fill="#3a0608" points="717.0,617.0 827.6,820.3 827.6,826.1 717.2,622.1"/>
<polygon fill="#340507" points="717.2,621.3 827.6,825.1 827.6,827.3 717.3,623.2"/>
<polygon fill="#260406" points="717.2,622.4 827.6,826.4 827.6,827.6 827.6,828.6 717.3,624.4 717.3,623.4"/>
<polygon fill="#200305" points="717.3,623.4 827.6,827.6 827.7,852.6 827.8,905.3 720.7,694.7 718.4,646.4"/>
</g>
<clipPath id="cb3"><polygon points="1154.5,114.7 1224.0,111.0 1184.0,755.0 822.0,831.0 817.0,514.0 1139.0,464.0"/></clipPath>
<g clip-path="url(#cb3)">
<polygon fill="#483b95" points="805.8,103.8 1238.4,71.2 1236.0,110.0 1235.6,116.2 806.1,154.0 806.0,147.0"/>
<polygon fill="#483c9b" points="806.1,153.0 1235.6,115.4 1235.4,119.5 806.1,157.6"/>
<polygon fill="#443995" points="806.1,156.6 1235.4,118.6 1235.0,125.9 806.2,164.8"/>
<polygon fill="#433a9d" points="806.1,163.8 1235.0,125.1 1234.7,130.2 806.2,169.6"/>
<polygon fill="#3c369a" points="806.2,168.6 1234.7,129.4 1234.5,133.5 806.2,173.2"/>
<polygon fill="#38349a" points="806.2,172.2 1234.5,132.6 1234.3,135.6 806.2,175.6"/>
<polygon fill="#37359e" points="806.2,174.6 1234.4,134.8 1234.2,137.8 806.2,178.0"/>
<polygon fill="#333297" points="806.2,177.0 1234.3,136.9 1234.1,138.8 806.2,179.2"/>
<polygon fill="#313093" points="806.2,178.2 1234.2,138.0 1234.0,141.0 806.3,181.6"/>
<polygon fill="#303199" points="806.2,180.6 1234.1,140.1 1233.8,144.2 806.3,185.2"/>
<polygon fill="#292d90" points="806.3,184.2 1233.9,143.4 1233.5,149.6 806.3,191.2"/>
<polygon fill="#262d92" points="806.3,190.2 1233.5,148.8 1233.3,152.9 806.3,194.8"/>
<polygon fill="#252f98" points="806.3,193.8 1233.3,152.0 1233.1,155.0 806.4,197.2"/>
<polygon fill="#24309c" points="806.3,196.2 1233.2,154.1 1233.0,157.2 806.4,199.6"/>
<polygon fill="#1f2f96" points="806.4,198.6 1233.1,156.3 1231.9,174.4 806.5,218.8"/>
<polygon fill="#1e2c90" points="806.5,217.8 1232.0,173.5 1231.9,175.5 806.5,220.0"/>
<polygon fill="#1e2c8a" points="806.5,219.0 1231.9,174.6 1231.8,176.6 806.5,221.2"/>
<polygon fill="#1f2b83" points="806.5,220.2 1231.8,175.7 1231.7,177.6 806.5,222.4"/>
<polygon fill="#212b7c" points="806.5,221.4 1231.8,176.8 1231.6,178.7 806.5,223.6"/>
<polygon fill="#222b73" points="806.5,222.6 1231.7,177.9 1231.5,180.9 806.5,226.0"/>
<polygon fill="#222a6d" points="806.5,225.0 1231.6,180.0 1230.8,191.6 806.6,238.0"/>
<polygon fill="#222c6a" points="806.6,237.0 1230.9,190.8 1230.2,201.3 806.7,248.8"/>
<polygon fill="#1f3167" points="806.7,247.8 1230.3,200.5 1230.0,205.7 806.7,253.5"/>
<polygon fill="#1e3567" points="806.7,252.6 1230.0,204.8 1229.8,207.8 806.7,255.9"/>
<polygon fill="#1e3a67" points="806.7,255.0 1229.9,206.9 1229.7,210.0 806.7,258.3"/>
<polygon fill="#1d4064" points="806.7,257.4 1229.7,209.1 1229.5,213.2 806.7,261.9"/>
<polygon fill="#1b445f" points="806.7,261.0 1229.5,212.3 1229.3,216.4 806.8,265.5"/>
<polygon fill="#1b4961" points="806.8,264.6 1229.3,215.6 1229.1,219.7 806.8,269.1"/>
<polygon fill="#1a495b" points="806.8,268.2 1229.1,218.8 1228.9,222.9 806.8,272.7"/>
<polygon fill="#1a4f5c" points="806.8,271.8 1228.9,222.0 1228.6,227.2 806.8,277.5"/>
<polygon fill="#1a5155" points="806.8,276.6 1228.7,226.3 1228.3,231.5 806.9,282.3"/>
<polygon fill="#19544e" points="806.9,281.4 1228.4,230.6 1228.1,235.8 806.9,287.1"/>
<polygon fill="#1b5b4d" points="806.9,286.2 1228.1,235.0 1227.8,240.1 806.9,291.9"/>
<polygon fill="#1a5e47" points="806.9,291.0 1227.9,239.3 1227.6,243.4 807.0,295.5"/>
<polygon fill="#1b6842" points="806.9,294.6 1227.6,242.5 1227.5,244.4 807.0,296.7"/>
<polygon fill="#1a6f3c" points="807.0,295.8 1227.6,243.6 1227.4,246.6 807.0,299.1"/>
<polygon fill="#1a7039" points="807.0,298.2 1227.4,245.7 1227.3,248.7 807.0,301.5"/>
<polygon fill="#1b7739" points="807.0,300.6 1227.3,247.9 1227.0,253.1 807.0,306.3"/>
<polygon fill="#1c7d38" points="807.0,305.4 1227.0,252.2 1226.7,257.4 807.1,311.1"/>
<polygon fill="#1d8338" points="807.0,310.2 1226.8,256.5 1226.6,259.5 807.1,313.5"/>
<polygon fill="#1f8b39" points="807.1,312.6 1226.6,258.7 1226.4,261.7 807.1,315.9"/>
<polygon fill="#209239" points="807.1,315.0 1226.5,260.8 1226.0,268.1 807.1,323.1"/>
<polygon fill="#239339" points="807.1,322.2 1226.1,267.3 1225.7,273.5 807.2,329.1"/>
<polygon fill="#279d3b" points="807.2,328.2 1225.8,272.7 1225.5,276.8 807.2,332.7"/>
<polygon fill="#29a33c" points="807.2,331.8 1225.6,275.9 1225.4,278.9 807.2,335.1"/>
<polygon fill="#2aa63c" points="807.2,334.2 1225.4,278.1 1225.1,283.2 807.2,339.9"/>
<polygon fill="#289f3a" points="807.2,339.0 1225.1,282.4 1224.6,291.8 807.3,349.5"/>
<polygon fill="#289b38" points="807.3,348.6 1224.6,291.0 1223.7,304.8 807.4,363.9"/>
<polygon fill="#32a139" points="807.4,363.0 1223.8,303.9 1223.7,305.8 807.4,365.1"/>
<polygon fill="#43a839" points="807.4,364.2 1223.7,305.0 1223.6,306.9 807.4,366.3"/>
<polygon fill="#50a736" points="807.4,365.4 1223.7,306.1 1223.5,308.0 807.4,367.5"/>
<polygon fill="#56a434" points="807.4,366.6 1223.6,307.1 1223.1,315.5 807.5,375.9"/>
<polygon fill="#5aab36" points="807.5,375.0 1223.1,314.7 1222.9,318.8 807.5,379.5"/>
<polygon fill="#56a434" points="807.5,378.6 1222.9,317.9 1222.8,319.9 807.5,380.7"/>
<polygon fill="#4ea034" points="807.5,379.8 1222.8,319.0 1222.7,320.9 807.5,381.9"/>
<polygon fill="#409f36" points="807.5,381.0 1222.8,320.1 1222.7,322.0 807.5,383.1"/>
<polygon fill="#319d39" points="807.5,382.1 1222.7,321.1 1222.6,323.1 807.5,384.3"/>
<polygon fill="#2a9e3b" points="807.5,383.3 1222.6,322.2 1222.3,327.4 807.5,389.1"/>
<polygon fill="#2ba13c" points="807.5,388.1 1222.4,326.5 1221.8,334.9 807.6,397.5"/>
<polygon fill="#279639" points="807.6,396.5 1221.9,334.1 1221.7,337.1 807.6,399.9"/>
<polygon fill="#249038" points="807.6,398.9 1221.8,336.2 1221.6,339.2 807.6,402.3"/>
<polygon fill="#1e8838" points="807.6,401.3 1221.6,338.4 1221.2,345.7 807.7,409.5"/>
<polygon fill="#1b8537" points="807.7,408.5 1221.2,344.8 1221.0,347.9 807.7,411.9"/>
<polygon fill="#1b7f34" points="807.7,410.9 1221.1,347.0 1220.6,354.3 807.7,419.1"/>
<polygon fill="#1f8936" points="807.7,418.1 1220.7,353.5 1220.6,355.4 807.7,420.3"/>
<polygon fill="#218e37" points="807.7,419.3 1220.6,354.5 1220.5,356.5 807.7,421.5"/>
<polygon fill="#239437" points="807.7,420.5 1220.5,355.6 1220.4,357.6 807.8,422.7"/>
<polygon fill="#279c39" points="807.7,421.7 1220.5,356.7 1220.3,359.7 807.8,425.1"/>
<polygon fill="#289f3a" points="807.8,424.1 1220.3,358.9 1219.9,366.2 807.8,432.3"/>
<polygon fill="#279c39" points="807.8,431.3 1219.9,365.3 1219.3,374.8 807.9,441.9"/>
<polygon fill="#28a13b" points="807.9,440.9 1219.4,373.9 1219.1,378.0 807.9,445.5"/>
<polygon fill="#29a43c" points="807.9,444.5 1219.2,377.2 1218.8,383.4 807.9,451.5"/>
<polygon fill="#28a03a" points="807.9,450.5 1218.9,382.6 1218.7,385.6 807.9,453.9"/>
<polygon fill="#2a9937" points="807.9,452.9 1218.7,384.7 1218.4,389.9 808.0,458.7"/>
<polygon fill="#2a9435" points="808.0,457.7 1218.4,389.0 1218.3,392.0 808.0,461.1"/>
<polygon fill="#288e33" points="808.0,460.1 1218.3,391.2 1218.2,393.1 808.0,462.3"/>
<polygon fill="#2a9334" points="808.0,461.3 1218.2,392.3 1218.1,394.2 808.0,463.5"/>
<polygon fill="#2c9a37" points="808.0,462.5 1218.2,393.3 1217.9,397.4 808.0,467.1"/>
<polygon fill="#32a139" points="808.0,466.1 1218.0,396.6 1217.8,399.6 808.0,469.5"/>
<polygon fill="#39a439" points="808.0,468.5 1217.8,398.7 1217.2,409.3 808.1,480.3"/>
<polygon fill="#3ca137" points="808.1,479.3 1217.2,408.4 1216.9,413.6 808.1,485.1"/>
<polygon fill="#41a738" points="808.1,484.1 1217.0,412.7 1216.8,415.7 808.2,487.5"/>
<polygon fill="#41a136" points="808.2,486.5 1216.8,414.9 1216.5,420.0 808.2,492.3"/>
<polygon fill="#4ba236" points="808.2,491.3 1216.5,419.2 1216.4,421.1 808.2,493.5"/>
<polygon fill="#52a336" points="808.2,492.5 1216.5,420.3 1216.4,422.2 808.2,494.7"/>
<polygon fill="#65a136" points="808.2,493.7 1216.4,421.3 1216.3,423.3 808.2,495.9"/>
<polygon fill="#849d36" points="808.2,494.9 1216.3,422.4 1216.2,424.4 808.2,497.1"/>
<polygon fill="#959838" points="808.2,496.1 1216.3,423.5 1216.1,426.5 808.2,499.5"/>
<polygon fill="#9a933c" points="808.2,498.5 1216.1,425.6 1215.9,428.7 808.3,501.9"/>
<polygon fill="#9a8d3d" points="808.2,500.9 1216.0,427.8 1215.9,428.9 1215.9,429.5 808.3,503.1 808.3,502.1"/>
<polygon fill="#9b6f53" points="808.3,502.1 1215.9,428.9 1215.8,430.2 808.3,504.2"/>
<polygon fill="#9e397d" points="808.3,503.3 1215.9,429.6 1215.8,430.9 808.3,505.4"/>
<polygon fill="#a21f94" points="808.3,504.5 1215.8,430.4 1215.4,436.8 808.4,514.9"/>
<polygon fill="#a41f97" points="808.3,513.9 1215.4,436.3 1215.3,437.7 1215.0,442.7 808.4,521.0 808.4,516.3"/>
<polygon fill="#ae388d" points="808.4,520.0 1215.1,441.7 1215.0,444.1 808.4,522.3"/>
<polygon fill="#ad6565" points="808.4,521.3 1215.0,443.0 1214.9,445.4 808.4,523.5"/>
<polygon fill="#ab725b" points="808.4,522.5 1214.9,444.3 1214.8,446.7 808.4,524.8"/>
<polygon fill="#a8626e" points="808.4,523.8 1214.9,445.7 1214.7,448.0 808.4,526.0"/>
<polygon fill="#a45875" points="808.4,525.0 1214.8,447.0 1214.5,450.7 808.4,528.5"/>
<polygon fill="#a35e6b" points="808.4,527.5 1214.6,449.6 1214.5,452.0 808.4,529.8"/>
<polygon fill="#a36d58" points="808.4,528.8 1214.5,450.9 1214.4,453.3 808.4,531.0"/>
<polygon fill="#91834a" points="808.4,530.0 1214.4,452.3 1214.3,454.6 808.5,532.3"/>
<polygon fill="#6a9f43" points="808.5,531.3 1214.4,453.6 1214.2,456.0 808.5,533.5"/>
<polygon fill="#5aad3f" points="808.5,532.5 1214.3,454.9 1213.9,461.3 808.5,538.5"/>
<polygon fill="#5dab3e" points="808.5,537.5 1214.0,460.2 1213.8,462.6 808.5,539.7"/>
<polygon fill="#62a93e" points="808.5,538.7 1213.9,461.5 1213.7,463.9 808.5,541.0"/>
<polygon fill="#71ae3f" points="808.5,540.0 1213.8,462.8 1213.6,465.2 808.5,542.2"/>
<polygon fill="#81b240" points="808.5,541.2 1213.7,464.2 1213.6,466.5 808.5,543.5"/>
<polygon fill="#91b23e" points="808.5,542.5 1213.6,465.5 1213.5,467.9 808.5,544.7"/>
<polygon fill="#a0b13c" points="808.5,543.7 1213.6,466.8 1213.4,469.2 808.5,546.0"/>
<polygon fill="#a6af3a" points="808.5,545.0 1213.5,468.1 1213.2,471.8 808.5,548.5"/>
<polygon fill="#a0a838" points="808.5,547.5 1213.3,470.8 1212.9,477.1 808.6,553.5"/>
<polygon fill="#91a539" points="808.6,552.5 1213.0,476.1 1212.8,478.4 808.6,554.7"/>
<polygon fill="#78a23c" points="808.6,553.7 1212.9,477.4 1212.7,479.8 808.6,556.0"/>
<polygon fill="#6ca23e" points="808.6,555.0 1212.8,478.7 1212.4,485.0 808.6,561.0"/>
<polygon fill="#7d9743" points="808.6,560.0 1212.5,484.0 1212.3,486.4 808.6,562.2"/>
<polygon fill="#9d7c4b" points="808.6,561.2 1212.4,485.3 1212.3,487.7 808.6,563.5"/>
<polygon fill="#ad6e4f" points="808.6,562.5 1212.3,486.6 1212.0,491.7 808.7,567.2"/>
<polygon fill="#b47252" points="808.6,566.2 1212.1,490.6 1211.9,494.3 808.7,569.7"/>
<polygon fill="#ad6b55" points="808.7,568.7 1211.9,493.2 1211.8,495.6 808.7,571.0"/>
<polygon fill="#a4615f" points="808.7,570.0 1211.8,494.6 1211.7,496.9 808.7,572.2"/>
<polygon fill="#a25c64" points="808.7,571.2 1211.8,495.9 1211.4,500.9 808.7,575.9"/>
<polygon fill="#a96169" points="808.7,574.9 1211.5,499.9 1211.4,502.2 808.7,577.2"/>
<polygon fill="#ae646a" points="808.7,576.2 1211.4,501.2 1211.2,504.9 808.7,579.7"/>
<polygon fill="#ac6661" points="808.7,578.7 1211.3,503.8 1211.1,506.2 808.7,580.9"/>
<polygon fill="#ab685a" points="808.7,579.9 1211.2,505.1 1211.0,507.5 808.7,582.2"/>
<polygon fill="#a86954" points="808.7,581.2 1211.1,506.5 1211.0,508.8 808.7,583.4"/>
<polygon fill="#a56a4e" points="808.7,582.4 1211.0,507.8 1210.8,511.5 808.8,585.9"/>
<polygon fill="#a66e48" points="808.8,584.9 1210.9,510.4 1210.5,515.5 808.8,589.7"/>
<polygon fill="#a26c45" points="808.8,588.7 1210.6,514.4 1210.4,518.1 808.8,592.2"/>
<polygon fill="#a87048" points="808.8,591.2 1210.4,517.0 1210.2,520.7 808.8,594.7"/>
<polygon fill="#af744b" points="808.8,593.7 1210.3,519.7 1209.9,526.0 808.8,599.7"/>
<polygon fill="#ae8246" points="808.8,598.7 1210.0,525.0 1209.8,527.4 808.8,600.9"/>
<polygon fill="#ac9e3e" points="808.8,599.9 1209.9,526.3 1209.7,528.7 808.8,602.2"/>
<polygon fill="#aaaa39" points="808.8,601.2 1209.8,527.6 1209.6,531.3 808.9,604.7"/>
<polygon fill="#a5a537" points="808.9,603.7 1209.6,530.3 1209.3,535.3 808.9,608.4"/>
<polygon fill="#a68c4f" points="808.9,607.4 1209.4,534.2 1209.2,536.6 808.9,609.7"/>
<polygon fill="#a4587f" points="808.9,608.7 1209.3,535.5 1209.2,537.9 808.9,610.9"/>
<polygon fill="#a43e96" points="808.9,609.9 1209.2,536.9 1209.0,540.6 808.9,613.4"/>
<polygon fill="#aa419c" points="808.9,612.4 1209.1,539.5 1208.7,545.9 808.9,618.4"/>
<polygon fill="#a95b81" points="808.9,617.4 1208.7,544.8 1208.6,547.2 808.9,619.6"/>
<polygon fill="#ab914c" points="808.9,618.6 1208.6,546.1 1208.5,548.5 809.0,620.9"/>
<polygon fill="#abab31" points="808.9,619.9 1208.6,547.4 1208.3,551.1 809.0,623.4"/>
<polygon fill="#a6a62f" points="809.0,622.4 1208.4,550.1 1207.8,559.1 809.0,630.9"/>
<polygon fill="#aeae32" points="809.0,629.9 1207.9,558.0 1207.8,560.4 809.0,632.1"/>
<polygon fill="#afa936" points="809.0,631.1 1207.8,559.3 1207.7,561.7 809.0,633.4"/>
<polygon fill="#b09d3f" points="809.0,632.4 1207.7,560.7 1207.6,563.0 809.0,634.6"/>
<polygon fill="#ae9542" points="809.0,633.6 1207.7,562.0 1207.3,568.3 809.1,639.6"/>
<polygon fill="#ad7a5b" points="809.1,638.6 1207.3,567.3 1207.2,569.7 809.1,640.9"/>
<polygon fill="#ad448c" points="809.1,639.9 1207.3,568.6 1207.1,571.0 809.1,642.1"/>
<polygon fill="#ac29a4" points="809.1,641.1 1207.2,569.9 1206.7,577.6 809.1,648.4"/>
<polygon fill="#a5279d" points="809.1,647.4 1206.8,576.5 1206.5,580.2 809.1,650.8"/>
<polygon fill="#a63291" points="809.1,649.9 1206.6,579.2 1206.5,581.6 809.1,652.1"/>
<polygon fill="#a84676" points="809.1,651.1 1206.5,580.5 1206.4,582.9 809.1,653.3"/>
<polygon fill="#a54f66" points="809.1,652.3 1206.4,581.8 1206.0,588.2 809.2,658.3"/>
<polygon fill="#a04c63" points="809.2,657.3 1206.1,587.1 1205.9,590.8 809.2,660.8"/>
<polygon fill="#a26356" points="809.2,659.8 1206.0,589.7 1205.8,592.1 809.2,662.1"/>
<polygon fill="#a7923b" points="809.2,661.1 1205.9,591.1 1205.7,593.5 809.2,663.3"/>
<polygon fill="#acad2f" points="809.2,662.3 1205.8,592.4 1205.4,598.7 809.2,668.3"/>
<polygon fill="#b1b231" points="809.2,667.3 1205.5,597.7 1205.2,601.4 809.2,670.8"/>
<polygon fill="#b7ba32" points="809.2,669.8 1205.3,600.3 1205.1,604.0 809.2,673.3"/>
<polygon fill="#babe34" points="809.2,672.3 1205.1,603.0 1205.0,605.3 809.3,674.6"/>
<polygon fill="#b4b732" points="809.2,673.6 1205.1,604.3 1204.9,606.9 1204.8,607.8 809.3,677.0 809.3,676.1"/>
<polygon fill="#af9230" points="809.3,676.1 1204.9,606.9 1204.8,609.0 809.3,678.3"/>
<polygon fill="#a5442a" points="809.3,677.3 1204.8,608.1 1204.7,610.1 809.3,679.5"/>
<polygon fill="#a01e28" points="809.3,678.5 1204.7,609.2 1203.5,628.3 809.4,699.2"/>
<polygon fill="#8e1a22" points="809.4,698.2 1203.6,627.4 1201.8,656.8 809.6,729.9"/>
<polygon fill="#891922" points="809.6,728.9 1201.8,655.8 1201.7,657.9 809.6,731.2"/>
<polygon fill="#7a1520" points="809.6,730.2 1201.7,657.0 1200.2,681.8 809.8,757.0"/>
<polygon fill="#75141e" points="809.8,756.0 1200.2,680.9 1200.1,682.9 809.8,758.2"/>
<polygon fill="#6a111a" points="809.8,757.2 1200.2,682.0 1200.0,684.1 809.8,759.4"/>
<polygon fill="#651018" points="809.8,758.5 1200.1,683.1 1198.5,707.9 809.9,785.3"/>
<polygon fill="#540a10" points="809.9,784.3 1198.6,707.0 1196.9,734.1 810.1,813.5"/>
<polygon fill="#4e090e" points="810.1,812.6 1197.0,733.2 1196.8,735.2 810.1,814.8"/>
<polygon fill="#40070a" points="810.1,813.8 1196.9,734.3 1196.8,736.4 810.1,816.0"/>
<polygon fill="#3a0608" points="810.1,815.0 1196.8,735.5 1196.5,740.9 810.2,820.9"/>
<polygon fill="#340507" points="810.2,819.9 1196.5,740.0 1196.4,742.1 810.2,822.2"/>
<polygon fill="#260406" points="810.2,821.2 1196.5,741.2 1196.3,743.2 810.2,823.4"/>
<polygon fill="#200305" points="810.2,822.4 1196.4,742.3 1195.7,752.5 1192.2,809.4 810.6,895.0 810.3,833.5"/>
</g>
<clipPath id="cb5"><polygon points="1016.5,61.5 1019.5,60.0 1154.5,114.7 1139.0,462.0 1015.0,364.0 1012.0,364.0"/></clipPath>
<g clip-path="url(#cb5)">
<polygon fill="#483b95" points="1008.8,20.1 1167.4,80.1 1165.6,119.2 1165.3,125.5 1008.3,61.2 1008.4,55.5"/>
<polygon fill="#483c9b" points="1008.3,60.4 1165.4,124.6 1165.2,128.8 1008.3,64.1"/>
<polygon fill="#443995" points="1008.3,63.4 1165.2,127.9 1164.9,135.3 1008.2,70.0"/>
<polygon fill="#433a9d" points="1008.2,69.3 1164.9,134.4 1164.7,139.6 1008.2,74.0"/>
<polygon fill="#3c369a" points="1008.2,73.2 1164.7,138.8 1164.5,142.9 1008.1,76.9"/>
<polygon fill="#38349a" points="1008.1,76.1 1164.6,142.0 1164.4,145.1 1008.1,78.9"/>
<polygon fill="#37359e" points="1008.1,78.1 1164.5,144.2 1164.3,147.2 1008.1,80.8"/>
<polygon fill="#333297" points="1008.1,80.1 1164.4,146.4 1164.3,148.3 1008.1,81.8"/>
<polygon fill="#313093" points="1008.1,81.0 1164.3,147.4 1164.2,150.5 1008.0,83.8"/>
<polygon fill="#303199" points="1008.1,83.0 1164.2,149.6 1164.0,153.7 1008.0,86.7"/>
<polygon fill="#292d90" points="1008.0,86.0 1164.0,152.9 1163.7,159.2 1008.0,91.7"/>
<polygon fill="#262d92" points="1008.0,90.9 1163.8,158.3 1163.6,162.4 1007.9,94.6"/>
<polygon fill="#252f98" points="1007.9,93.8 1163.6,161.6 1163.5,164.6 1007.9,96.6"/>
<polygon fill="#24309c" points="1007.9,95.8 1163.5,163.7 1163.4,166.8 1007.9,98.5"/>
<polygon fill="#1f2f96" points="1007.9,97.7 1163.4,165.9 1162.6,184.1 1007.7,114.3"/>
<polygon fill="#1e2c90" points="1007.7,113.5 1162.6,183.3 1162.5,185.2 1007.7,115.2"/>
<polygon fill="#1e2c8a" points="1007.7,114.5 1162.6,184.4 1162.5,186.3 1007.7,116.2"/>
<polygon fill="#1f2b83" points="1007.7,115.4 1162.5,185.4 1162.4,187.4 1007.7,117.2"/>
<polygon fill="#212b7c" points="1007.7,116.4 1162.5,186.5 1162.4,188.5 1007.6,118.2"/>
<polygon fill="#222b73" points="1007.6,117.4 1162.4,187.6 1162.3,190.7 1007.6,120.2"/>
<polygon fill="#222a6d" points="1007.6,119.4 1162.3,189.8 1161.8,201.5 1007.5,130.0"/>
<polygon fill="#222c6a" points="1007.5,129.2 1161.8,200.6 1161.3,211.3 1007.4,138.8"/>
<polygon fill="#1f3167" points="1007.4,138.0 1161.3,210.4 1161.1,215.6 1007.4,142.8"/>
<polygon fill="#1e3567" points="1007.4,142.0 1161.1,214.8 1161.0,217.8 1007.3,144.7"/>
<polygon fill="#1e3a67" points="1007.3,143.9 1161.0,216.9 1160.9,220.0 1007.3,146.7"/>
<polygon fill="#1d4064" points="1007.3,145.9 1160.9,219.1 1160.7,223.2 1007.3,149.6"/>
<polygon fill="#1b445f" points="1007.3,148.9 1160.8,222.4 1160.6,226.5 1007.2,152.6"/>
<polygon fill="#1b4961" points="1007.3,151.8 1160.6,225.6 1160.4,229.7 1007.2,155.5"/>
<polygon fill="#1a495b" points="1007.2,154.8 1160.5,228.9 1160.3,233.0 1007.2,158.5"/>
<polygon fill="#1a4f5c" points="1007.2,157.7 1160.3,232.1 1160.1,237.3 1007.1,162.4"/>
<polygon fill="#1a5155" points="1007.1,161.6 1160.1,236.5 1159.9,241.7 1007.1,166.3"/>
<polygon fill="#19544e" points="1007.1,165.6 1159.9,240.8 1159.7,246.0 1007.0,170.3"/>
<polygon fill="#1b5b4d" points="1007.0,169.5 1159.7,245.2 1159.5,250.4 1007.0,174.2"/>
<polygon fill="#1a5e47" points="1007.0,173.4 1159.5,249.5 1159.3,253.6 1007.0,177.2"/>
<polygon fill="#1b6842" points="1007.0,176.4 1159.3,252.8 1159.2,254.7 1007.0,178.1"/>
<polygon fill="#1a6f3c" points="1007.0,177.4 1159.3,253.8 1159.1,256.9 1006.9,180.1"/>
<polygon fill="#1a7039" points="1006.9,179.3 1159.2,256.0 1159.0,259.1 1006.9,182.1"/>
<polygon fill="#1b7739" points="1006.9,181.3 1159.1,258.2 1158.8,263.4 1006.9,186.0"/>
<polygon fill="#1c7d38" points="1006.9,185.2 1158.9,262.5 1158.6,267.7 1006.8,189.9"/>
<polygon fill="#1d8338" points="1006.8,189.2 1158.7,266.9 1158.5,269.9 1006.8,191.9"/>
<polygon fill="#1f8b39" points="1006.8,191.1 1158.6,269.0 1158.4,272.1 1006.8,193.9"/>
<polygon fill="#209239" points="1006.8,193.1 1158.5,271.2 1158.1,278.6 1006.7,199.8"/>
<polygon fill="#239339" points="1006.7,199.0 1158.2,277.7 1157.9,284.0 1006.6,204.7"/>
<polygon fill="#279d3b" points="1006.7,203.9 1157.9,283.2 1157.7,287.3 1006.6,207.6"/>
<polygon fill="#29a33c" points="1006.6,206.8 1157.7,286.4 1157.6,289.5 1006.6,209.6"/>
<polygon fill="#2aa63c" points="1006.6,208.8 1157.6,288.6 1157.4,293.8 1006.6,213.5"/>
<polygon fill="#289f3a" points="1006.6,212.7 1157.4,292.9 1157.0,302.5 1006.5,221.4"/>
<polygon fill="#289b38" points="1006.5,220.6 1157.0,301.6 1156.4,315.5 1006.3,233.2"/>
<polygon fill="#32a139" points="1006.3,232.4 1156.4,314.6 1156.3,316.6 1006.3,234.2"/>
<polygon fill="#43a839" points="1006.3,233.4 1156.4,315.7 1156.3,317.7 1006.3,235.2"/>
<polygon fill="#50a736" points="1006.3,234.4 1156.3,316.8 1156.2,318.8 1006.3,236.1"/>
<polygon fill="#56a434" points="1006.3,235.4 1156.3,317.9 1155.9,326.4 1006.2,243.0"/>
<polygon fill="#5aab36" points="1006.2,242.2 1155.9,325.5 1155.7,329.6 1006.2,246.0"/>
<polygon fill="#56a434" points="1006.2,245.2 1155.7,328.7 1155.6,330.7 1006.2,247.0"/>
<polygon fill="#4ea034" points="1006.2,246.2 1155.7,329.8 1155.6,331.8 1006.2,247.9"/>
<polygon fill="#409f36" points="1006.2,247.2 1155.6,330.9 1155.5,332.9 1006.2,248.9"/>
<polygon fill="#319d39" points="1006.2,248.1 1155.6,332.0 1155.5,334.0 1006.1,249.9"/>
<polygon fill="#2a9e3b" points="1006.2,249.1 1155.5,333.1 1155.3,338.3 1006.1,253.8"/>
<polygon fill="#2ba13c" points="1006.1,253.1 1155.3,337.4 1154.9,345.9 1006.0,260.7"/>
<polygon fill="#279639" points="1006.0,259.9 1155.0,345.0 1154.8,348.1 1006.0,262.7"/>
<polygon fill="#249038" points="1006.0,261.9 1154.9,347.2 1154.7,350.2 1006.0,264.7"/>
<polygon fill="#1e8838" points="1006.0,263.9 1154.8,349.4 1154.4,356.7 1005.9,270.6"/>
<polygon fill="#1b8537" points="1005.9,269.8 1154.4,355.9 1154.3,358.9 1005.9,272.5"/>
<polygon fill="#1b7f34" points="1005.9,271.7 1154.3,358.0 1154.0,365.4 1005.8,278.4"/>
<polygon fill="#1f8936" points="1005.8,277.6 1154.0,364.6 1153.9,366.5 1005.8,279.4"/>
<polygon fill="#218e37" points="1005.8,278.6 1154.0,365.6 1153.9,367.6 1005.8,280.4"/>
<polygon fill="#239437" points="1005.8,279.6 1153.9,366.7 1153.8,368.7 1005.8,281.4"/>
<polygon fill="#279c39" points="1005.8,280.6 1153.9,367.8 1153.7,370.9 1005.8,283.3"/>
<polygon fill="#289f3a" points="1005.8,282.6 1153.8,370.0 1153.4,377.4 1005.7,289.2"/>
<polygon fill="#279c39" points="1005.7,288.5 1153.5,376.5 1153.0,386.0 1005.6,297.1"/>
<polygon fill="#28a13b" points="1005.6,296.3 1153.0,385.2 1152.9,389.3 1005.6,300.1"/>
<polygon fill="#29a43c" points="1005.6,299.3 1152.9,388.4 1152.6,394.7 1005.5,305.0"/>
<polygon fill="#28a03a" points="1005.5,304.2 1152.6,393.9 1152.5,396.9 1005.5,306.9"/>
<polygon fill="#2a9937" points="1005.5,306.2 1152.5,396.0 1152.3,401.2 1005.5,310.9"/>
<polygon fill="#2a9435" points="1005.5,310.1 1152.3,400.4 1152.2,403.4 1005.5,312.8"/>
<polygon fill="#288e33" points="1005.5,312.1 1152.2,402.5 1152.1,404.5 1005.4,313.8"/>
<polygon fill="#2a9334" points="1005.5,313.0 1152.2,403.6 1152.1,405.6 1005.4,314.8"/>
<polygon fill="#2c9a37" points="1005.4,314.0 1152.1,404.7 1151.9,408.8 1005.4,317.8"/>
<polygon fill="#32a139" points="1005.4,317.0 1152.0,408.0 1151.8,411.0 1005.4,319.7"/>
<polygon fill="#39a439" points="1005.4,318.9 1151.9,410.1 1151.4,420.8 1005.3,328.6"/>
<polygon fill="#3ca137" points="1005.3,327.8 1151.4,419.9 1151.1,425.1 1005.2,332.5"/>
<polygon fill="#41a738" points="1005.2,331.7 1151.2,424.2 1151.0,427.3 1005.2,334.5"/>
<polygon fill="#41a136" points="1005.2,333.7 1151.1,426.4 1150.8,431.6 1005.2,338.4"/>
<polygon fill="#4ba236" points="1005.2,337.6 1150.9,430.8 1150.8,432.7 1005.2,339.4"/>
<polygon fill="#52a336" points="1005.2,338.6 1150.8,431.8 1150.7,433.8 1005.2,340.4"/>
<polygon fill="#65a136" points="1005.2,339.6 1150.8,432.9 1150.7,434.9 1005.1,341.4"/>
<polygon fill="#849d36" points="1005.2,340.6 1150.7,434.0 1150.6,436.0 1005.1,342.3"/>
<polygon fill="#959838" points="1005.1,341.6 1150.7,435.1 1150.5,438.1 1005.1,344.3"/>
<polygon fill="#9a933c" points="1005.1,343.5 1150.6,437.3 1150.4,440.3 1005.1,346.3"/>
<polygon fill="#9a8d3d" points="1005.1,345.5 1150.5,439.4 1150.4,440.5 1150.3,441.5 1005.1,346.8 1005.1,346.5"/>
<polygon fill="#9b6f53" points="1005.1,346.5 1150.4,440.5 1150.3,442.6 1005.1,347.3"/>
<polygon fill="#9e397d" points="1005.1,346.9 1150.3,441.7 1150.2,443.8 1005.1,347.7"/>
<polygon fill="#a21f94" points="1005.1,347.4 1150.3,442.9 1149.6,453.1 1005.3,351.2"/>
<polygon fill="#a41f97" points="1005.3,350.9 1149.7,452.2 1149.2,459.0 1005.4,353.5"/>
<polygon fill="#ae388d" points="1005.4,353.1 1149.3,458.0 1149.1,460.1 1005.4,353.9"/>
<polygon fill="#ad6565" points="1005.4,353.5 1149.2,459.2 1149.1,461.3 1005.4,354.3"/>
<polygon fill="#ab725b" points="1005.4,354.0 1149.1,460.4 1149.0,462.5 1005.4,354.8"/>
<polygon fill="#a8626e" points="1005.4,354.4 1149.0,461.5 1148.9,463.6 1005.4,355.2"/>
<polygon fill="#a45875" points="1005.4,354.9 1149.0,462.7 1148.8,465.9 1005.5,356.1"/>
<polygon fill="#a35e6b" points="1005.5,355.8 1148.8,465.0 1148.7,467.1 1005.5,356.6"/>
<polygon fill="#a36d58" points="1005.5,356.2 1148.7,466.2 1148.7,467.3 1148.6,468.3 1005.5,357.2 1005.5,356.7"/>
<polygon fill="#91834a" points="1005.5,356.7 1148.7,467.3 1148.6,469.4 1005.5,358.0"/>
<polygon fill="#6a9f43" points="1005.5,357.4 1148.6,468.5 1148.5,470.6 1005.5,358.7"/>
<polygon fill="#5aad3f" points="1005.5,358.1 1148.5,469.7 1148.2,475.2 1005.5,361.6"/>
<polygon fill="#5dab3e" points="1005.5,361.0 1148.3,474.3 1148.2,476.4 1005.5,362.3"/>
<polygon fill="#62a93e" points="1005.5,361.7 1148.2,475.5 1148.1,477.6 1005.5,363.0"/>
<polygon fill="#71ae3f" points="1005.5,362.4 1148.1,476.6 1148.0,478.7 1005.6,363.7"/>
<polygon fill="#81b240" points="1005.6,363.2 1148.1,477.8 1148.0,479.9 1005.6,364.5"/>
<polygon fill="#91b23e" points="1005.6,363.9 1148.0,479.0 1147.9,481.1 1005.6,365.2"/>
<polygon fill="#a0b13c" points="1005.6,364.6 1147.9,480.1 1147.8,482.2 1005.6,365.9"/>
<polygon fill="#a6af3a" points="1005.6,365.3 1147.9,481.3 1147.7,484.5 1005.6,367.4"/>
<polygon fill="#a0a838" points="1005.6,366.8 1147.7,483.6 1147.4,489.2 1005.6,370.3"/>
<polygon fill="#91a539" points="1005.6,369.7 1147.5,488.3 1147.4,490.4 1005.6,371.0"/>
<polygon fill="#78a23c" points="1005.6,370.4 1147.4,489.4 1147.3,491.5 1005.6,371.7"/>
<polygon fill="#6ca23e" points="1005.6,371.1 1147.3,490.6 1147.0,496.2 1005.6,374.6"/>
<polygon fill="#7d9743" points="1005.6,374.0 1147.1,495.2 1147.0,497.3 1005.6,375.3"/>
<polygon fill="#9d7c4b" points="1005.6,374.7 1147.0,496.4 1146.9,498.5 1005.6,376.0"/>
<polygon fill="#ad6e4f" points="1005.6,375.5 1146.9,497.6 1146.7,502.0 1005.7,378.2"/>
<polygon fill="#b47252" points="1005.6,377.6 1146.7,501.0 1146.6,504.3 1005.7,379.7"/>
<polygon fill="#ad6b55" points="1005.7,379.1 1146.6,503.4 1146.5,505.5 1005.7,380.4"/>
<polygon fill="#a4615f" points="1005.7,379.8 1146.5,504.5 1146.4,506.6 1005.7,381.1"/>
<polygon fill="#a15c64" points="1005.7,380.5 1146.5,505.7 1146.3,508.0 1143.7,554.4 1005.9,411.1 1005.7,382.0"/>
</g>
<clipPath id="cb4"><polygon points="716.0,80.0 1019.5,60.0 1015.0,364.0 729.0,400.0"/></clipPath>
<g clip-path="url(#cb4)">
<polygon fill="#483b95" points="702.6,43.0 1032.0,24.3 1031.5,59.2 1031.4,64.8 704.3,86.9 704.0,80.8"/>
<polygon fill="#483c9b" points="704.2,86.0 1031.4,64.1 1031.3,67.8 704.4,90.0"/>
<polygon fill="#443995" points="704.4,89.2 1031.4,67.0 1031.3,73.6 704.6,96.3"/>
<polygon fill="#433a9d" points="704.6,95.5 1031.3,72.8 1031.2,77.5 704.8,100.5"/>
<polygon fill="#3c369a" points="704.8,99.7 1031.2,76.7 1031.2,80.4 704.9,103.7"/>
<polygon fill="#38349a" points="704.9,102.9 1031.2,79.6 1031.1,82.3 705.0,105.8"/>
<polygon fill="#37359e" points="705.0,105.0 1031.1,81.5 1031.1,84.2 705.1,107.9"/>
<polygon fill="#333297" points="705.0,107.1 1031.1,83.5 1031.1,85.2 705.1,108.9"/>
<polygon fill="#313093" points="705.1,108.1 1031.1,84.4 1031.1,87.2 705.2,111.0"/>
<polygon fill="#303199" points="705.2,110.2 1031.1,86.4 1031.0,90.1 705.3,114.2"/>
<polygon fill="#292d90" points="705.3,113.4 1031.0,89.3 1030.9,94.9 705.5,119.5"/>
<polygon fill="#262d92" points="705.5,118.6 1030.9,94.1 1030.9,97.8 705.6,122.6"/>
<polygon fill="#252f98" points="705.6,121.8 1030.9,97.1 1030.9,99.8 705.7,124.7"/>
<polygon fill="#24309c" points="705.7,123.9 1030.9,99.0 1030.8,101.7 705.8,126.8"/>
<polygon fill="#1f2f96" points="705.8,126.0 1030.8,100.9 1030.6,117.2 706.5,143.6"/>
<polygon fill="#1e2c90" points="706.4,142.8 1030.6,116.5 1030.6,118.2 706.5,144.7"/>
<polygon fill="#1e2c8a" points="706.5,143.8 1030.6,117.4 1030.6,119.2 706.5,145.7"/>
<polygon fill="#1f2b83" points="706.5,144.9 1030.6,118.4 1030.6,120.2 706.6,146.8"/>
<polygon fill="#212b7c" points="706.6,145.9 1030.6,119.4 1030.5,121.1 706.6,147.8"/>
<polygon fill="#222b73" points="706.6,147.0 1030.6,120.4 1030.5,123.1 706.7,149.9"/>
<polygon fill="#222a6d" points="706.7,149.1 1030.5,122.3 1030.4,132.8 707.1,160.4"/>
<polygon fill="#222c6a" points="707.1,159.6 1030.4,132.0 1030.2,141.5 707.5,169.9"/>
<polygon fill="#1f3167" points="707.5,169.0 1030.2,140.7 1030.2,145.4 707.6,174.1"/>
<polygon fill="#1e3567" points="707.6,173.3 1030.2,144.6 1030.1,147.3 707.7,176.2"/>
<polygon fill="#1e3a67" points="707.7,175.4 1030.2,146.6 1030.1,149.3 707.8,178.3"/>
<polygon fill="#1d4064" points="707.8,177.5 1030.1,148.5 1030.1,152.2 707.9,181.4"/>
<polygon fill="#1b445f" points="707.9,180.6 1030.1,151.4 1030.0,155.1 708.1,184.6"/>
<polygon fill="#1b4961" points="708.0,183.8 1030.0,154.3 1030.0,158.0 708.2,187.8"/>
<polygon fill="#1a495b" points="708.1,186.9 1030.0,157.2 1029.9,160.9 708.3,190.9"/>
<polygon fill="#1a4f5c" points="708.3,190.1 1029.9,160.1 1029.9,164.8 708.5,195.1"/>
<polygon fill="#1a5155" points="708.4,194.3 1029.9,164.0 1029.8,168.7 708.6,199.3"/>
<polygon fill="#19544e" points="708.6,198.5 1029.8,167.9 1029.8,172.6 708.8,203.5"/>
<polygon fill="#1b5b4d" points="708.8,202.7 1029.8,171.8 1029.7,176.4 709.0,207.7"/>
<polygon fill="#1a5e47" points="708.9,206.9 1029.7,175.7 1029.7,179.4 709.1,210.9"/>
<polygon fill="#1b6842" points="709.0,210.0 1029.7,178.6 1029.6,180.3 709.1,211.9"/>
<polygon fill="#1a6f3c" points="709.1,211.1 1029.7,179.5 1029.6,182.3 709.2,214.0"/>
<polygon fill="#1a7039" points="709.2,213.2 1029.6,181.5 1029.6,184.2 709.3,216.1"/>
<polygon fill="#1b7739" points="709.2,215.3 1029.6,183.4 1029.5,188.1 709.4,220.3"/>
<polygon fill="#1c7d38" points="709.4,219.5 1029.5,187.3 1029.5,192.0 709.6,224.5"/>
<polygon fill="#1d8338" points="709.6,223.7 1029.5,191.2 1029.4,193.9 709.7,226.6"/>
<polygon fill="#1f8b39" points="709.7,225.8 1029.4,193.1 1029.4,195.8 709.8,228.7"/>
<polygon fill="#209239" points="709.7,227.9 1029.4,195.1 1029.3,201.7 710.0,235.0"/>
<polygon fill="#239339" points="710.0,234.2 1029.3,200.9 1029.2,206.5 710.2,240.3"/>
<polygon fill="#279d3b" points="710.2,239.5 1029.3,205.7 1029.2,209.4 710.3,243.4"/>
<polygon fill="#29a33c" points="710.3,242.6 1029.2,208.7 1029.2,211.4 710.4,245.5"/>
<polygon fill="#2aa63c" points="710.4,244.7 1029.2,210.6 1029.1,215.3 710.6,249.7"/>
<polygon fill="#289f3a" points="710.6,248.9 1029.1,214.5 1029.0,223.0 710.9,258.2"/>
<polygon fill="#289b38" points="710.9,257.3 1029.0,222.2 1028.8,234.7 711.4,270.8"/>
<polygon fill="#32a139" points="711.4,269.9 1028.8,233.9 1028.8,235.6 711.4,271.8"/>
<polygon fill="#43a839" points="711.4,271.0 1028.8,234.9 1028.8,236.6 711.5,272.9"/>
<polygon fill="#50a736" points="711.5,272.0 1028.8,235.8 1028.8,237.6 711.5,273.9"/>
<polygon fill="#56a434" points="711.5,273.1 1028.8,236.8 1028.7,242.6 1028.7,244.5 711.8,281.2 711.7,279.4"/>
<polygon fill="#5aab36" points="711.8,280.4 1028.7,243.6 1028.6,247.5 711.9,284.1"/>
<polygon fill="#56a434" points="711.9,283.3 1028.6,246.7 1028.6,248.5 712.0,285.1"/>
<polygon fill="#4ea034" points="711.9,284.3 1028.6,247.7 1028.6,249.6 712.0,286.1"/>
<polygon fill="#409f36" points="712.0,285.3 1028.6,248.7 1028.6,250.6 712.0,287.1"/>
<polygon fill="#319d39" points="712.0,286.3 1028.6,249.8 1028.6,251.6 712.1,288.1"/>
<polygon fill="#2a9e3b" points="712.0,287.3 1028.6,250.8 1028.5,255.7 712.2,292.1"/>
<polygon fill="#2ba13c" points="712.2,291.3 1028.5,254.9 1028.4,262.8 712.5,299.0"/>
<polygon fill="#279639" points="712.5,298.2 1028.4,262.0 1028.4,264.8 712.6,301.0"/>
<polygon fill="#249038" points="712.5,300.2 1028.4,264.0 1028.3,266.9 712.7,302.9"/>
<polygon fill="#1e8838" points="712.6,302.1 1028.4,266.1 1028.3,273.0 712.9,308.9"/>
<polygon fill="#1b8537" points="712.9,308.1 1028.3,272.2 1028.2,275.0 713.0,310.9"/>
<polygon fill="#1b7f34" points="712.9,310.1 1028.2,274.2 1028.1,281.2 713.2,316.8"/>
<polygon fill="#1f8936" points="713.2,316.0 1028.1,280.3 1028.1,282.2 713.2,317.8"/>
<polygon fill="#218e37" points="713.2,317.0 1028.1,281.4 1028.1,283.2 713.3,318.8"/>
<polygon fill="#239437" points="713.2,318.0 1028.1,282.4 1028.1,284.2 713.3,319.8"/>
<polygon fill="#279c39" points="713.3,319.0 1028.1,283.4 1028.1,286.3 713.4,321.7"/>
<polygon fill="#289f3a" points="713.3,321.0 1028.1,285.4 1028.0,292.4 713.6,327.7"/>
<polygon fill="#279c39" points="713.6,326.9 1028.0,291.6 1027.8,300.5 713.9,335.6"/>
<polygon fill="#28a13b" points="713.9,334.8 1027.9,299.7 1027.8,303.6 714.0,338.6"/>
<polygon fill="#29a43c" points="714.0,337.8 1027.8,302.8 1027.7,308.7 714.2,343.5"/>
<polygon fill="#28a03a" points="714.2,342.7 1027.7,307.9 1027.7,310.7 714.3,345.5"/>
<polygon fill="#2a9937" points="714.3,344.7 1027.7,309.9 1027.6,314.8 714.4,349.5"/>
<polygon fill="#2a9435" points="714.4,348.7 1027.6,314.0 1027.6,316.8 714.5,351.4"/>
<polygon fill="#288e33" points="714.5,350.6 1027.6,316.0 1027.6,317.9 714.6,352.4"/>
<polygon fill="#2a9334" points="714.5,351.6 1027.6,317.0 1027.6,318.9 714.6,353.4"/>
<polygon fill="#2c9a37" points="714.6,352.6 1027.6,318.1 1027.5,321.9 714.7,356.4"/>
<polygon fill="#32a139" points="714.7,355.6 1027.5,321.1 1027.5,324.0 714.8,358.4"/>
<polygon fill="#39a439" points="714.8,357.6 1027.5,323.2 1027.4,333.2 715.1,367.3"/>
<polygon fill="#3ca137" points="715.1,366.5 1027.4,332.3 1027.3,337.2 715.3,371.2"/>
<polygon fill="#41a738" points="715.3,370.4 1027.3,336.4 1027.3,339.3 715.4,373.2"/>
<polygon fill="#41a136" points="715.3,372.4 1027.3,338.5 1027.2,343.4 715.5,377.2"/>
<polygon fill="#4ba236" points="715.5,376.4 1027.2,342.5 1027.2,344.4 715.6,378.2"/>
<polygon fill="#52a336" points="715.5,377.4 1027.2,343.6 1027.2,345.4 715.6,379.2"/>
<polygon fill="#65a136" points="715.6,378.4 1027.2,344.6 1027.2,346.4 715.6,380.1"/>
<polygon fill="#849d36" points="715.6,379.3 1027.2,345.6 1027.2,347.4 715.7,381.1"/>
<polygon fill="#959838" points="715.6,380.3 1027.2,346.6 1027.1,349.5 715.7,383.1"/>
<polygon fill="#9a933c" points="715.7,382.3 1027.1,348.7 1027.1,351.5 715.8,385.1"/>
<polygon fill="#9a8d3d" points="715.8,384.3 1027.1,350.7 1027.1,351.7 1027.1,352.1 715.9,385.9 715.8,385.3"/>
<polygon fill="#9b6f53" points="715.8,385.3 1027.1,351.7 1027.1,352.6 715.9,386.6"/>
<polygon fill="#9e397d" points="715.9,386.0 1027.1,352.2 1027.1,353.0 715.9,387.3"/>
<polygon fill="#a21f94" points="715.9,386.7 1027.1,352.7 1027.0,356.8 716.1,392.9"/>
<polygon fill="#a41f97" points="716.1,392.3 1027.0,356.4 1027.0,359.1 716.3,396.4"/>
<polygon fill="#ae388d" points="716.3,395.9 1027.0,358.8 1027.0,359.6 716.3,397.1"/>
<polygon fill="#ad6565" points="716.3,396.6 1027.0,359.2 1026.9,360.1 716.3,397.8"/>
<polygon fill="#ab725b" points="716.3,397.3 1027.0,359.7 1026.9,360.5 716.4,398.5"/>
<polygon fill="#a8626e" points="716.3,398.0 1026.9,360.2 1026.9,361.0 716.4,399.2"/>
<polygon fill="#a45875" points="716.4,398.7 1026.9,360.6 1026.9,361.9 716.4,400.6"/>
<polygon fill="#a35e6b" points="716.4,400.1 1026.9,361.6 1026.9,362.4 716.5,401.4"/>
<polygon fill="#a36d58" points="716.4,400.8 1026.9,362.0 1026.9,362.5 1026.9,363.1 716.5,402.1 716.5,401.5"/>
<polygon fill="#91834a" points="716.5,401.5 1026.9,362.5 1026.9,363.8 716.5,402.8"/>
<polygon fill="#6a9f43" points="716.5,402.2 1026.9,363.2 1026.9,364.6 716.6,403.5"/>
<polygon fill="#5aad3f" points="716.5,402.9 1026.9,364.0 1026.8,367.6 716.7,406.3"/>
<polygon fill="#5dab3e" points="716.6,405.8 1026.8,367.0 1026.8,368.3 716.7,407.1"/>
<polygon fill="#62a93e" points="716.7,406.5 1026.8,367.7 1026.8,369.1 716.7,407.8"/>
<polygon fill="#71ae3f" points="716.7,407.2 1026.8,368.5 1026.8,369.8 716.7,408.5"/>
<polygon fill="#81b240" points="716.7,407.9 1026.8,369.2 1026.8,370.5 716.8,409.2"/>
<polygon fill="#91b23e" points="716.8,408.6 1026.8,369.9 1026.8,371.3 716.8,409.9"/>
<polygon fill="#a0b13c" points="716.8,409.3 1026.8,370.7 1026.8,372.0 716.8,410.6"/>
<polygon fill="#a6af3a" points="716.8,410.1 1026.8,371.4 1026.7,373.5 716.9,412.1"/>
<polygon fill="#a0a838" points="716.9,411.5 1026.8,372.9 1026.7,376.5 717.0,414.9"/>
<polygon fill="#91a539" points="717.0,414.3 1026.7,375.9 1026.7,377.2 717.0,415.6"/>
<polygon fill="#78a23c" points="717.0,415.0 1026.7,376.6 1026.7,378.0 717.0,416.3"/>
<polygon fill="#6ca23e" points="717.0,415.8 1026.7,377.4 1026.6,381.0 717.2,419.2"/>
<polygon fill="#7d9743" points="717.1,418.6 1026.6,380.4 1026.6,381.7 717.2,419.9"/>
<polygon fill="#9d7c4b" points="717.2,419.3 1026.6,381.1 1026.6,382.4 717.2,420.6"/>
<polygon fill="#ad6e4f" points="717.2,420.0 1026.6,381.8 1026.6,384.7 717.3,422.8"/>
<polygon fill="#b47252" points="717.3,422.2 1026.6,384.1 1026.6,386.2 717.4,424.2"/>
<polygon fill="#ad6b55" points="717.3,423.6 1026.6,385.6 1026.5,386.9 717.4,424.9"/>
<polygon fill="#a4615f" points="717.4,424.3 1026.6,386.3 1026.5,387.6 717.4,425.6"/>
<polygon fill="#a15c64" points="717.4,425.0 1026.5,387.1 1026.5,388.5 1026.1,418.3 718.5,455.0 717.4,426.5"/>
</g>
<polyline points="990,600 991,640 989,700 990,760 991,800" fill="none" stroke="#b03040" stroke-width="4" opacity="0.3"/>
<polyline points="1092,590 1093,640 1091,700 1092,770" fill="none" stroke="#b03040" stroke-width="4" opacity="0.25"/>
<g clip-path="url(#cfb)">
<polygon points="729,400 1015,364 1139,460 1139,464 817,514 728,403" fill="#9c26a0"/>
<g filter="url(#blur5)">
<ellipse cx="785" cy="412" rx="62" ry="20" fill="#6aa83c" transform="rotate(-4 785 412)"/>
<ellipse cx="838" cy="404" rx="24" ry="10" fill="#b0a040"/>
<ellipse cx="828" cy="437" rx="78" ry="6" fill="#b08c48" transform="rotate(3 828 437)"/>
<ellipse cx="980" cy="377" rx="62" ry="8" fill="#a46060" transform="rotate(-6 980 377)"/>
<ellipse cx="945" cy="405" rx="62" ry="26" fill="#8c289c" transform="rotate(6 945 405)"/>
<ellipse cx="950" cy="404" rx="32" ry="13" fill="#7a3098"/>
<ellipse cx="930" cy="440" rx="55" ry="6" fill="#a86a60" transform="rotate(14 930 440)"/>
<ellipse cx="1058" cy="448" rx="50" ry="20" fill="#a8a040" transform="rotate(12 1058 448)"/>
<ellipse cx="1092" cy="414" rx="36" ry="14" fill="#a02494" transform="rotate(38 1092 414)"/>
<ellipse cx="835" cy="474" rx="75" ry="30" fill="#a21ea0"/>
<ellipse cx="1010" cy="480" rx="115" ry="7" fill="#b06058" transform="rotate(-8 1010 480)"/>
</g>
</g>
<polyline points="698,67 716,80 1019.5,60 1154.5,114.7" stroke="#ffffff" stroke-width="3" fill="none" stroke-linejoin="miter"/>
<polyline points="716,80 728.5,403 817,514 1139,464 1154.5,114.7" stroke="#ffffff" stroke-width="3" fill="none" stroke-linejoin="miter"/>
<line x1="817" y1="514" x2="820" y2="831" stroke="#ffffff" stroke-width="3" fill="none" stroke-linejoin="miter"/>
<line x1="146" y1="636" x2="184" y2="684" stroke="#ffffff" stroke-width="2.5" fill="none" stroke-linejoin="miter"/>
<line x1="535" y1="643" x2="533" y2="712" stroke="#ffffff" stroke-width="2.5" fill="none" stroke-linejoin="miter"/>
<line x1="486" y1="720.5" x2="593" y2="696" stroke="#ffffff" stroke-width="2.5" fill="none" stroke-linejoin="miter"/>
<polyline points="131.2,35 131.2,42.3 328.5,42.3 328.5,35" fill="none" stroke="#231815" stroke-width="2.2"/>
<polyline points="702.2,28.6 702.2,36 900.5,36 900.5,27.5" fill="none" stroke="#231815" stroke-width="2.2"/>
<line x1="122.1" y1="89.0" x2="126.6" y2="89.0" stroke="#231815" stroke-width="1.5"/>
<line x1="123.6" y1="127.0" x2="128.1" y2="127.0" stroke="#231815" stroke-width="1.5"/>
<line x1="124.8" y1="160.0" x2="129.3" y2="160.0" stroke="#231815" stroke-width="1.5"/>
<line x1="126.1" y1="193.5" x2="130.6" y2="193.5" stroke="#231815" stroke-width="1.5"/>
<line x1="127.4" y1="226.0" x2="131.9" y2="226.0" stroke="#231815" stroke-width="1.5"/>
<line x1="128.6" y1="258.5" x2="133.1" y2="258.5" stroke="#231815" stroke-width="1.5"/>
<line x1="129.9" y1="291.0" x2="134.4" y2="291.0" stroke="#231815" stroke-width="1.5"/>
<line x1="131.1" y1="323.0" x2="135.6" y2="323.0" stroke="#231815" stroke-width="1.5"/>
<line x1="132.3" y1="355.0" x2="136.8" y2="355.0" stroke="#231815" stroke-width="1.5"/>
<line x1="133.5" y1="386.5" x2="138.0" y2="386.5" stroke="#231815" stroke-width="1.5"/>
<line x1="134.6" y1="416.0" x2="139.1" y2="416.0" stroke="#231815" stroke-width="1.5"/>
<line x1="135.8" y1="446.5" x2="140.3" y2="446.5" stroke="#231815" stroke-width="1.5"/>
<line x1="136.9" y1="475.5" x2="141.4" y2="475.5" stroke="#231815" stroke-width="1.5"/>
<line x1="138.0" y1="504.0" x2="142.5" y2="504.0" stroke="#231815" stroke-width="1.5"/>
<line x1="139.1" y1="533.0" x2="143.6" y2="533.0" stroke="#231815" stroke-width="1.5"/>
<line x1="140.2" y1="562.0" x2="144.7" y2="562.0" stroke="#231815" stroke-width="1.5"/>
<line x1="141.3" y1="590.0" x2="145.8" y2="590.0" stroke="#231815" stroke-width="1.5"/>
<line x1="142.4" y1="618.0" x2="146.9" y2="618.0" stroke="#231815" stroke-width="1.5"/>
<line x1="143.4" y1="645.0" x2="147.9" y2="645.0" stroke="#231815" stroke-width="1.5"/>
<line x1="144.5" y1="672.0" x2="149.0" y2="672.0" stroke="#231815" stroke-width="1.5"/>
<line x1="694.2" y1="71.0" x2="698.7" y2="71.0" stroke="#231815" stroke-width="1.5"/>
<line x1="695.7" y1="106.0" x2="700.2" y2="106.0" stroke="#231815" stroke-width="1.5"/>
<line x1="697.2" y1="140.0" x2="701.7" y2="140.0" stroke="#231815" stroke-width="1.5"/>
<line x1="698.6" y1="172.0" x2="703.1" y2="172.0" stroke="#231815" stroke-width="1.5"/>
<line x1="700.1" y1="205.0" x2="704.6" y2="205.0" stroke="#231815" stroke-width="1.5"/>
<line x1="701.4" y1="236.0" x2="705.9" y2="236.0" stroke="#231815" stroke-width="1.5"/>
<line x1="702.9" y1="268.0" x2="707.4" y2="268.0" stroke="#231815" stroke-width="1.5"/>
<line x1="704.2" y1="297.5" x2="708.7" y2="297.5" stroke="#231815" stroke-width="1.5"/>
<line x1="705.5" y1="328.0" x2="710.0" y2="328.0" stroke="#231815" stroke-width="1.5"/>
<line x1="706.8" y1="358.0" x2="711.3" y2="358.0" stroke="#231815" stroke-width="1.5"/>
<line x1="708.1" y1="388.0" x2="712.6" y2="388.0" stroke="#231815" stroke-width="1.5"/>
<line x1="709.4" y1="417.0" x2="713.9" y2="417.0" stroke="#231815" stroke-width="1.5"/>
<line x1="710.7" y1="446.0" x2="715.2" y2="446.0" stroke="#231815" stroke-width="1.5"/>
<line x1="712.0" y1="475.0" x2="716.5" y2="475.0" stroke="#231815" stroke-width="1.5"/>
<line x1="713.2" y1="502.0" x2="717.7" y2="502.0" stroke="#231815" stroke-width="1.5"/>
<line x1="714.4" y1="530.0" x2="718.9" y2="530.0" stroke="#231815" stroke-width="1.5"/>
<line x1="715.6" y1="557.0" x2="720.1" y2="557.0" stroke="#231815" stroke-width="1.5"/>
<line x1="716.8" y1="584.0" x2="721.3" y2="584.0" stroke="#231815" stroke-width="1.5"/>
<line x1="718.0" y1="611.0" x2="722.5" y2="611.0" stroke="#231815" stroke-width="1.5"/>
<line x1="719.2" y1="639.0" x2="723.7" y2="639.0" stroke="#231815" stroke-width="1.5"/>
<line x1="309.5" y1="757.0" x2="309.5" y2="760.5" stroke="#50606a" stroke-width="1.6"/>
<line x1="375.0" y1="744.0" x2="375.0" y2="747.5" stroke="#50606a" stroke-width="1.6"/>
<line x1="439.0" y1="731.0" x2="439.0" y2="734.5" stroke="#50606a" stroke-width="1.6"/>
<line x1="500.0" y1="718.5" x2="500.0" y2="722.0" stroke="#50606a" stroke-width="1.6"/>
<line x1="560.0" y1="706.5" x2="560.0" y2="710.0" stroke="#50606a" stroke-width="1.6"/>
<line x1="184.8" y1="700.0" x2="181.8" y2="701.0" stroke="#50606a" stroke-width="1.6"/>
<line x1="202.0" y1="728.0" x2="199.0" y2="729.0" stroke="#50606a" stroke-width="1.6"/>
<line x1="220.8" y1="758.4" x2="217.8" y2="759.4" stroke="#50606a" stroke-width="1.6"/>
<line x1="903.4" y1="819.5" x2="903.4" y2="823.0" stroke="#3a3a3a" stroke-width="1.6"/>
<line x1="965.7" y1="806.5" x2="965.7" y2="810.0" stroke="#3a3a3a" stroke-width="1.6"/>
<line x1="1028.0" y1="792.0" x2="1028.0" y2="795.5" stroke="#3a3a3a" stroke-width="1.6"/>
<line x1="1090.0" y1="777.0" x2="1090.0" y2="780.5" stroke="#3a3a3a" stroke-width="1.6"/>
<line x1="1149.0" y1="762.5" x2="1149.0" y2="766.0" stroke="#3a3a3a" stroke-width="1.6"/>
<line x1="745.0" y1="699.0" x2="742.0" y2="700.0" stroke="#3a3a3a" stroke-width="1.6"/>
<line x1="762.0" y1="729.0" x2="759.0" y2="730.0" stroke="#3a3a3a" stroke-width="1.6"/>
<line x1="779.0" y1="761.0" x2="776.0" y2="762.0" stroke="#3a3a3a" stroke-width="1.6"/>
<line x1="799.0" y1="795.0" x2="796.0" y2="796.0" stroke="#3a3a3a" stroke-width="1.6"/>
<text transform="matrix(1.0000,-0.0000,0.0000,1.0000,132.65,18.65)" x="0" y="10.78" font-size="31.72" text-anchor="middle" font-family='"Liberation Serif", "Times New Roman", serif' fill="#231815" >0</text>
<text transform="matrix(1.0000,-0.0000,0.0000,1.0000,353.00,18.00)" x="0" y="10.26" font-size="30.17" text-anchor="middle" font-family='"Liberation Serif", "Times New Roman", serif' fill="#231815" >10 km</text>
<text transform="matrix(1.0000,-0.0000,0.0000,1.0000,701.75,14.45)" x="0" y="10.30" font-size="30.28" text-anchor="middle" font-family='"Liberation Serif", "Times New Roman", serif' fill="#231815" >0</text>
<text transform="matrix(1.0000,-0.0000,0.0000,1.0000,923.00,14.80)" x="0" y="10.26" font-size="30.17" text-anchor="middle" font-family='"Liberation Serif", "Times New Roman", serif' fill="#231815" >10 km</text>
<text transform="matrix(1.0000,-0.0000,0.0000,1.0000,116.70,88.20)" x="0" y="10.86" font-size="31.95" text-anchor="middle" font-family='"Liberation Serif", "Times New Roman", serif' fill="#231815" >0</text>
<text transform="matrix(1.0000,-0.0000,0.0000,1.0000,100.85,124.05)" x="0" y="10.61" font-size="31.21" text-anchor="middle" font-family='"Liberation Serif", "Times New Roman", serif' fill="#231815" >600</text>
<text transform="matrix(1.0000,-0.0000,0.0000,1.0000,92.00,193.50)" x="0" y="10.54" font-size="31.00" text-anchor="middle" font-family='"Liberation Serif", "Times New Roman", serif' fill="#231815" >1600</text>
<text transform="matrix(1.0000,-0.0000,0.0000,1.0000,96.50,258.50)" x="0" y="10.54" font-size="31.00" text-anchor="middle" font-family='"Liberation Serif", "Times New Roman", serif' fill="#231815" >2600</text>
<text transform="matrix(1.0000,-0.0000,0.0000,1.0000,96.75,323.00)" x="0" y="10.63" font-size="31.26" text-anchor="middle" font-family='"Liberation Serif", "Times New Roman", serif' fill="#231815" >3600</text>
<text transform="matrix(1.0000,-0.0000,0.0000,1.0000,99.35,385.20)" x="0" y="10.38" font-size="30.53" text-anchor="middle" font-family='"Liberation Serif", "Times New Roman", serif' fill="#231815" >4600</text>
<text transform="matrix(1.0000,-0.0000,0.0000,1.0000,102.50,446.00)" x="0" y="10.54" font-size="31.00" text-anchor="middle" font-family='"Liberation Serif", "Times New Roman", serif' fill="#231815" >5600</text>
<text transform="matrix(1.0000,-0.0000,0.0000,1.0000,104.00,504.00)" x="0" y="10.54" font-size="31.00" text-anchor="middle" font-family='"Liberation Serif", "Times New Roman", serif' fill="#231815" >6600</text>
<text transform="matrix(1.0000,-0.0000,0.0000,1.0000,106.10,562.65)" x="0" y="10.54" font-size="31.00" text-anchor="middle" font-family='"Liberation Serif", "Times New Roman", serif' fill="#231815" >7600</text>
<text transform="matrix(1.0000,-0.0000,0.0000,1.0000,108.40,616.15)" x="0" y="10.22" font-size="30.07" text-anchor="middle" font-family='"Liberation Serif", "Times New Roman", serif' fill="#231815" >8600</text>
<text transform="matrix(1.0000,-0.0000,0.0000,1.0000,110.20,671.65)" x="0" y="10.50" font-size="30.90" text-anchor="middle" font-family='"Liberation Serif", "Times New Roman", serif' fill="#231815" >9600</text>
<text transform="matrix(1.0000,-0.0000,0.0000,1.0000,689.35,70.85)" x="0" y="10.62" font-size="31.24" text-anchor="middle" font-family='"Liberation Serif", "Times New Roman", serif' fill="#231815" >0</text>
<text transform="matrix(1.0000,-0.0000,0.0000,1.0000,663.50,139.50)" x="0" y="10.17" font-size="29.91" text-anchor="middle" font-family='"Liberation Serif", "Times New Roman", serif' fill="#231815" >1100</text>
<text transform="matrix(1.0000,-0.0000,0.0000,1.0000,665.05,204.90)" x="0" y="10.49" font-size="30.84" text-anchor="middle" font-family='"Liberation Serif", "Times New Roman", serif' fill="#231815" >2100</text>
<text transform="matrix(1.0000,-0.0000,0.0000,1.0000,668.80,267.00)" x="0" y="10.36" font-size="30.48" text-anchor="middle" font-family='"Liberation Serif", "Times New Roman", serif' fill="#231815" >3100</text>
<text transform="matrix(1.0000,-0.0000,0.0000,1.0000,671.25,328.50)" x="0" y="10.42" font-size="30.64" text-anchor="middle" font-family='"Liberation Serif", "Times New Roman", serif' fill="#231815" >4100</text>
<text transform="matrix(1.0000,-0.0000,0.0000,1.0000,674.40,390.25)" x="0" y="10.43" font-size="30.68" text-anchor="middle" font-family='"Liberation Serif", "Times New Roman", serif' fill="#231815" >5100</text>
<text transform="matrix(1.0000,-0.0000,0.0000,1.0000,675.50,447.20)" x="0" y="10.68" font-size="31.42" text-anchor="middle" font-family='"Liberation Serif", "Times New Roman", serif' fill="#231815" >6100</text>
<text transform="matrix(1.0000,-0.0000,0.0000,1.0000,677.10,501.95)" x="0" y="10.33" font-size="30.37" text-anchor="middle" font-family='"Liberation Serif", "Times New Roman", serif' fill="#231815" >7100</text>
<text transform="matrix(1.0000,-0.0000,0.0000,1.0000,681.75,556.95)" x="0" y="10.17" font-size="29.92" text-anchor="middle" font-family='"Liberation Serif", "Times New Roman", serif' fill="#231815" >8100</text>
<text transform="matrix(1.0000,-0.0000,0.0000,1.0000,686.00,611.00)" x="0" y="10.19" font-size="29.97" text-anchor="middle" font-family='"Liberation Serif", "Times New Roman", serif' fill="#231815" >9100</text>
<text transform="matrix(1.0000,-0.0000,0.0000,1.0000,686.50,638.50)" x="0" y="10.36" font-size="30.48" text-anchor="middle" font-family='"Liberation Serif", "Times New Roman", serif' fill="#231815" >9600</text>
<text transform="matrix(0.0000,-1.0000,1.0000,0.0000,40.25,399.00)" x="0" y="10.67" font-size="31.37" text-anchor="middle" font-family='"Liberation Serif", "Noto Serif CJK SC", serif' fill="#231815" font-weight="300">深度/m</text>
<text transform="matrix(0.0000,-1.0000,1.0000,0.0000,614.95,414.70)" x="0" y="10.67" font-size="31.37" text-anchor="middle" font-family='"Liberation Serif", "Noto Serif CJK SC", serif' fill="#231815" font-weight="300">深度/m</text>
<text transform="matrix(0.8192,-0.5736,0.4695,0.8829,133.75,696.55)" x="0" y="10.30" font-size="30.29" text-anchor="middle" font-family='"Liberation Serif", "Times New Roman", serif' fill="#231815" >3800</text>
<text transform="matrix(0.8192,-0.5736,0.4695,0.8829,151.45,721.20)" x="0" y="10.23" font-size="30.09" text-anchor="middle" font-family='"Liberation Serif", "Times New Roman", serif' fill="#231815" >3300</text>
<text transform="matrix(0.8192,-0.5736,0.4695,0.8829,169.45,750.25)" x="0" y="10.56" font-size="31.05" text-anchor="middle" font-family='"Liberation Serif", "Times New Roman", serif' fill="#231815" >2800</text>
<text transform="matrix(0.8192,-0.5736,0.4695,0.8829,189.50,778.10)" x="0" y="10.57" font-size="31.09" text-anchor="middle" font-family='"Liberation Serif", "Times New Roman", serif' fill="#231815" >2300</text>
<text transform="matrix(0.5195,0.8545,-0.8545,0.5195,115.50,762.25)" x="0" y="9.69" font-size="28.49" text-anchor="middle" font-family='"Liberation Serif", "Times New Roman", serif' fill="#231815" >inline</text>
<text transform="matrix(0.9890,-0.1478,0.1478,0.9890,312.30,776.25)" x="0" y="10.53" font-size="30.98" text-anchor="middle" font-family='"Liberation Serif", "Times New Roman", serif' fill="#231815" >1900</text>
<text transform="matrix(0.9890,-0.1478,0.1478,0.9890,440.30,751.05)" x="0" y="10.61" font-size="31.19" text-anchor="middle" font-family='"Liberation Serif", "Times New Roman", serif' fill="#231815" >2900</text>
<text transform="matrix(0.9890,-0.1478,0.1478,0.9890,566.55,724.50)" x="0" y="10.29" font-size="30.27" text-anchor="middle" font-family='"Liberation Serif", "Times New Roman", serif' fill="#231815" >3900</text>
<text transform="matrix(0.9432,-0.2264,0.2334,0.9724,439.90,783.95)" x="0" y="10.34" font-size="30.42" text-anchor="middle" font-family='"Liberation Serif", "Times New Roman", serif' fill="#231815" >crossline</text>
<text transform="matrix(0.8192,-0.5736,0.4695,0.8829,713.35,714.90)" x="0" y="9.77" font-size="28.72" text-anchor="middle" font-family='"Liberation Serif", "Times New Roman", serif' fill="#231815" >3800</text>
<text transform="matrix(0.8192,-0.5736,0.4695,0.8829,730.50,745.75)" x="0" y="9.66" font-size="28.40" text-anchor="middle" font-family='"Liberation Serif", "Times New Roman", serif' fill="#231815" >3300</text>
<text transform="matrix(0.8192,-0.5736,0.4695,0.8829,748.20,779.55)" x="0" y="9.98" font-size="29.36" text-anchor="middle" font-family='"Liberation Serif", "Times New Roman", serif' fill="#231815" >2800</text>
<text transform="matrix(0.8192,-0.5736,0.4695,0.8829,768.60,813.50)" x="0" y="9.78" font-size="28.77" text-anchor="middle" font-family='"Liberation Serif", "Times New Roman", serif' fill="#231815" >2300</text>
<text transform="matrix(0.5195,0.8545,-0.8545,0.5195,672.10,751.15)" x="0" y="9.23" font-size="27.16" text-anchor="middle" font-family='"Liberation Serif", "Times New Roman", serif' fill="#231815" >inline</text>
<text transform="matrix(0.9890,-0.1478,0.1478,0.9890,887.30,837.10)" x="0" y="10.81" font-size="31.80" text-anchor="middle" font-family='"Liberation Serif", "Times New Roman", serif' fill="#231815" >1900</text>
<text transform="matrix(0.9890,-0.1478,0.1478,0.9890,1024.50,810.95)" x="0" y="10.33" font-size="30.38" text-anchor="middle" font-family='"Liberation Serif", "Times New Roman", serif' fill="#231815" >2900</text>
<text transform="matrix(0.9890,-0.1478,0.1478,0.9890,1149.70,781.75)" x="0" y="10.70" font-size="31.46" text-anchor="middle" font-family='"Liberation Serif", "Times New Roman", serif' fill="#231815" >3900</text>
<text transform="matrix(0.9432,-0.2264,0.2334,0.9724,1037.25,839.25)" x="0" y="10.33" font-size="30.37" text-anchor="middle" font-family='"Liberation Serif", "Times New Roman", serif' fill="#231815" >crossline</text>
<text transform="matrix(1.0000,-0.0000,0.0000,1.0000,593.50,315.00)" x="0" y="10.33" font-size="30.39" text-anchor="middle" font-family='"Liberation Serif", "Noto Serif CJK SC", serif' fill="#231815" font-weight="300">火成</text>
<text transform="matrix(1.0000,-0.0000,0.0000,1.0000,593.50,346.90)" x="0" y="10.52" font-size="30.93" text-anchor="middle" font-family='"Liberation Serif", "Noto Serif CJK SC", serif' fill="#231815" font-weight="300">岩层</text>
<text transform="matrix(1.0000,-0.0000,0.0000,1.0000,596.10,569.70)" x="0" y="10.48" font-size="30.82" text-anchor="middle" font-family='"Liberation Serif", "Noto Serif CJK SC", serif' fill="#231815" font-weight="300">断控</text>
<text transform="matrix(1.0000,-0.0000,0.0000,1.0000,595.25,603.05)" x="0" y="10.43" font-size="30.67" text-anchor="middle" font-family='"Liberation Serif", "Noto Serif CJK SC", serif' fill="#231815" font-weight="300">储集体</text>
<text transform="matrix(1.0000,-0.0000,0.0000,1.0000,355.95,893.20)" x="0" y="10.56" font-size="31.06" text-anchor="middle" font-family='"Liberation Serif", "Noto Serif CJK SC", serif' fill="#231815" font-weight="300">(a) 剖面特征</text>
<text transform="matrix(1.0000,-0.0000,0.0000,1.0000,979.60,893.20)" x="0" y="10.54" font-size="31.00" text-anchor="middle" font-family='"Liberation Serif", "Noto Serif CJK SC", serif' fill="#231815" font-weight="300">(b) 平面特征</text>
<text transform="matrix(1.0000,-0.0000,0.0000,1.0000,580.60,786.05)" x="0" y="10.36" font-size="30.46" text-anchor="middle" font-family='"Liberation Serif", "Times New Roman", serif' fill="#1050b0" >IL</text>
<text transform="matrix(1.0000,-0.0000,0.0000,1.0000,609.75,785.40)" x="0" y="10.97" font-size="32.25" text-anchor="middle" font-family='"Liberation Serif", "Times New Roman", serif' fill="#d42a44" >N</text>
<text transform="matrix(1.0000,-0.0000,0.0000,1.0000,681.65,810.50)" x="0" y="11.69" font-size="34.37" text-anchor="middle" font-family='"Liberation Serif", "Times New Roman", serif' fill="#50b888" >XL</text>
<text transform="matrix(1.0000,-0.0000,0.0000,1.0000,601.65,887.05)" x="0" y="10.38" font-size="30.53" text-anchor="middle" font-family='"Liberation Serif", "Times New Roman", serif' fill="#9040a0" font-style="italic">Z</text>
<defs><linearGradient id="cbg" x1="0" y1="0" x2="0" y2="1"><stop offset="0.0000" stop-color="#7e70ba"/><stop offset="0.0215" stop-color="#6660b0"/><stop offset="0.0416" stop-color="#4c52a8"/><stop offset="0.0792" stop-color="#3a4ea4"/><stop offset="0.1248" stop-color="#2c4c9c"/><stop offset="0.1664" stop-color="#284e98"/><stop offset="0.1826" stop-color="#24588e"/><stop offset="0.1987" stop-color="#1a7480"/><stop offset="0.2148" stop-color="#1a8c6a"/><stop offset="0.2309" stop-color="#20a050"/><stop offset="0.2604" stop-color="#38a838"/><stop offset="0.3007" stop-color="#5cb030"/><stop offset="0.3544" stop-color="#80b830"/><stop offset="0.4040" stop-color="#a8c430"/><stop offset="0.4483" stop-color="#d0d430"/><stop offset="0.4953" stop-color="#f0e030"/><stop offset="0.5235" stop-color="#f0d038"/><stop offset="0.5423" stop-color="#f0b848"/><stop offset="0.5651" stop-color="#f0a050"/><stop offset="0.5852" stop-color="#ea8464"/><stop offset="0.6054" stop-color="#e27088"/><stop offset="0.6295" stop-color="#d460a8"/><stop offset="0.6644" stop-color="#a85aa8"/><stop offset="0.6966" stop-color="#9450a4"/><stop offset="0.7235" stop-color="#a04ca4"/><stop offset="0.7503" stop-color="#d03498"/><stop offset="0.7772" stop-color="#e02088"/><stop offset="0.7946" stop-color="#e02068"/><stop offset="0.8174" stop-color="#e02a30"/><stop offset="0.8443" stop-color="#d82020"/><stop offset="0.8711" stop-color="#b81a1a"/><stop offset="0.8913" stop-color="#8a1414"/><stop offset="0.9154" stop-color="#5a0a0a"/><stop offset="0.9383" stop-color="#380606"/><stop offset="0.9651" stop-color="#1c0202"/><stop offset="0.9852" stop-color="#0c0000"/><stop offset="1.0000" stop-color="#080000"/></linearGradient></defs>
<rect x="1243" y="76" width="13.5" height="745" fill="url(#cbg)" stroke="#120c0a" stroke-width="1.8"/>
<line x1="1242" y1="75.6" x2="1265" y2="75.6" stroke="#120c0a" stroke-width="2.6"/>
<text x="1267.6" y="84.9" font-size="31.0" text-anchor="start" font-family='"Liberation Serif", "Times New Roman", serif' fill="#231815" >1800</text>
<line x1="1257" y1="105.4" x2="1265" y2="105.4" stroke="#231815" stroke-width="1.6"/>
<text x="1267.6" y="114.7" font-size="31.0" text-anchor="start" font-family='"Liberation Serif", "Times New Roman", serif' fill="#231815" >2000</text>
<line x1="1257" y1="135.3" x2="1265" y2="135.3" stroke="#231815" stroke-width="1.6"/>
<text x="1267.6" y="144.6" font-size="31.0" text-anchor="start" font-family='"Liberation Serif", "Times New Roman", serif' fill="#231815" >2200</text>
<line x1="1257" y1="165.1" x2="1265" y2="165.1" stroke="#231815" stroke-width="1.6"/>
<text x="1267.6" y="174.4" font-size="31.0" text-anchor="start" font-family='"Liberation Serif", "Times New Roman", serif' fill="#231815" >2400</text>
<line x1="1257" y1="194.9" x2="1265" y2="194.9" stroke="#231815" stroke-width="1.6"/>
<text x="1267.6" y="204.2" font-size="31.0" text-anchor="start" font-family='"Liberation Serif", "Times New Roman", serif' fill="#231815" >2600</text>
<line x1="1257" y1="224.7" x2="1265" y2="224.7" stroke="#231815" stroke-width="1.6"/>
<text x="1267.6" y="234.0" font-size="31.0" text-anchor="start" font-family='"Liberation Serif", "Times New Roman", serif' fill="#231815" >2800</text>
<line x1="1257" y1="254.6" x2="1265" y2="254.6" stroke="#231815" stroke-width="1.6"/>
<text x="1267.6" y="263.9" font-size="31.0" text-anchor="start" font-family='"Liberation Serif", "Times New Roman", serif' fill="#231815" >3000</text>
<line x1="1257" y1="284.4" x2="1265" y2="284.4" stroke="#231815" stroke-width="1.6"/>
<text x="1267.6" y="293.7" font-size="31.0" text-anchor="start" font-family='"Liberation Serif", "Times New Roman", serif' fill="#231815" >3200</text>
<line x1="1257" y1="314.2" x2="1265" y2="314.2" stroke="#231815" stroke-width="1.6"/>
<text x="1267.6" y="323.5" font-size="31.0" text-anchor="start" font-family='"Liberation Serif", "Times New Roman", serif' fill="#231815" >3400</text>
<line x1="1257" y1="344.1" x2="1265" y2="344.1" stroke="#231815" stroke-width="1.6"/>
<text x="1267.6" y="353.4" font-size="31.0" text-anchor="start" font-family='"Liberation Serif", "Times New Roman", serif' fill="#231815" >3600</text>
<line x1="1257" y1="373.9" x2="1265" y2="373.9" stroke="#231815" stroke-width="1.6"/>
<text x="1267.6" y="383.2" font-size="31.0" text-anchor="start" font-family='"Liberation Serif", "Times New Roman", serif' fill="#231815" >3800</text>
<line x1="1257" y1="403.7" x2="1265" y2="403.7" stroke="#231815" stroke-width="1.6"/>
<text x="1267.6" y="413.0" font-size="31.0" text-anchor="start" font-family='"Liberation Serif", "Times New Roman", serif' fill="#231815" >4000</text>
<line x1="1257" y1="433.6" x2="1265" y2="433.6" stroke="#231815" stroke-width="1.6"/>
<text x="1267.6" y="442.9" font-size="31.0" text-anchor="start" font-family='"Liberation Serif", "Times New Roman", serif' fill="#231815" >4200</text>
<line x1="1257" y1="463.4" x2="1265" y2="463.4" stroke="#231815" stroke-width="1.6"/>
<text x="1267.6" y="472.7" font-size="31.0" text-anchor="start" font-family='"Liberation Serif", "Times New Roman", serif' fill="#231815" >4400</text>
<line x1="1257" y1="493.2" x2="1265" y2="493.2" stroke="#231815" stroke-width="1.6"/>
<text x="1267.6" y="502.5" font-size="31.0" text-anchor="start" font-family='"Liberation Serif", "Times New Roman", serif' fill="#231815" >4600</text>
<line x1="1257" y1="523.0" x2="1265" y2="523.0" stroke="#231815" stroke-width="1.6"/>
<text x="1267.6" y="532.3" font-size="31.0" text-anchor="start" font-family='"Liberation Serif", "Times New Roman", serif' fill="#231815" >4800</text>
<line x1="1257" y1="552.9" x2="1265" y2="552.9" stroke="#231815" stroke-width="1.6"/>
<text x="1267.6" y="562.2" font-size="31.0" text-anchor="start" font-family='"Liberation Serif", "Times New Roman", serif' fill="#231815" >5000</text>
<line x1="1257" y1="582.7" x2="1265" y2="582.7" stroke="#231815" stroke-width="1.6"/>
<text x="1267.6" y="592.0" font-size="31.0" text-anchor="start" font-family='"Liberation Serif", "Times New Roman", serif' fill="#231815" >5200</text>
<line x1="1257" y1="612.5" x2="1265" y2="612.5" stroke="#231815" stroke-width="1.6"/>
<text x="1267.6" y="621.8" font-size="31.0" text-anchor="start" font-family='"Liberation Serif", "Times New Roman", serif' fill="#231815" >5400</text>
<line x1="1257" y1="642.4" x2="1265" y2="642.4" stroke="#231815" stroke-width="1.6"/>
<text x="1267.6" y="651.7" font-size="31.0" text-anchor="start" font-family='"Liberation Serif", "Times New Roman", serif' fill="#231815" >5600</text>
<line x1="1257" y1="672.2" x2="1265" y2="672.2" stroke="#231815" stroke-width="1.6"/>
<text x="1267.6" y="681.5" font-size="31.0" text-anchor="start" font-family='"Liberation Serif", "Times New Roman", serif' fill="#231815" >5800</text>
<line x1="1257" y1="702.0" x2="1265" y2="702.0" stroke="#231815" stroke-width="1.6"/>
<text x="1267.6" y="711.3" font-size="31.0" text-anchor="start" font-family='"Liberation Serif", "Times New Roman", serif' fill="#231815" >6000</text>
<line x1="1257" y1="731.9" x2="1265" y2="731.9" stroke="#231815" stroke-width="1.6"/>
<text x="1267.6" y="741.2" font-size="31.0" text-anchor="start" font-family='"Liberation Serif", "Times New Roman", serif' fill="#231815" >6200</text>
<line x1="1257" y1="761.7" x2="1265" y2="761.7" stroke="#231815" stroke-width="1.6"/>
<text x="1267.6" y="771.0" font-size="31.0" text-anchor="start" font-family='"Liberation Serif", "Times New Roman", serif' fill="#231815" >6400</text>
<line x1="1257" y1="791.5" x2="1265" y2="791.5" stroke="#231815" stroke-width="1.6"/>
<text x="1267.6" y="800.8" font-size="31.0" text-anchor="start" font-family='"Liberation Serif", "Times New Roman", serif' fill="#231815" >6600</text>
<line x1="1257" y1="821.4" x2="1265" y2="821.4" stroke="#231815" stroke-width="1.6"/>
<text x="1267.6" y="830.6" font-size="31.0" text-anchor="start" font-family='"Liberation Serif", "Times New Roman", serif' fill="#231815" >6800</text>
<text transform="translate(1366,445) rotate(-90)" font-size="29" text-anchor="middle" font-family='"Liberation Serif", "Times New Roman", serif' fill="#231815"><tspan font-style="italic">v</tspan><tspan font-size="19" dy="3">p</tspan><tspan dy="-3">/(m·s</tspan><tspan font-size="19" dy="-11">-1</tspan><tspan dy="11">)</tspan></text>
<line x1="566.0" y1="366.0" x2="493.7" y2="400.0" stroke="#000" stroke-width="3.2"/>
<polygon points="481.0,406.0 492.7,393.3 498.2,405.1" fill="#000"/>
<line x1="646.0" y1="366.0" x2="838.9" y2="415.0" stroke="#000" stroke-width="3.2"/>
<polygon points="852.5,418.4 835.4,420.8 838.6,408.2" fill="#000"/>
<line x1="544.0" y1="599.0" x2="363.7" y2="684.0" stroke="#000" stroke-width="3.2"/>
<polygon points="351.0,690.0 362.7,677.3 368.2,689.1" fill="#000"/>
<line x1="653.0" y1="583.0" x2="969.8" y2="698.2" stroke="#000" stroke-width="3.2"/>
<polygon points="983.0,703.0 965.7,703.6 970.2,691.4" fill="#000"/>
<line x1="587.4" y1="802.6" x2="593" y2="808" stroke="#1050b0" stroke-width="1.6"/>
<circle cx="595.5" cy="811.5" r="5.2" fill="#2a5a6a" stroke="#d42a44" stroke-width="3.4"/>
<line x1="610" y1="818" x2="656" y2="812.5" stroke="#50b888" stroke-width="1.8"/>
<line x1="602.5" y1="828" x2="603.3" y2="873" stroke="#a050b0" stroke-width="1.8"/>
<polygon points="594,813 605,809 611,812 600,816" fill="#8a8a10"/>
<polygon points="594,813 600,816 600,829 594,826" fill="#9a9a10"/>
<rect x="600" y="814.5" width="11" height="14" fill="#e4e020"/>
</svg>
</body></html>
